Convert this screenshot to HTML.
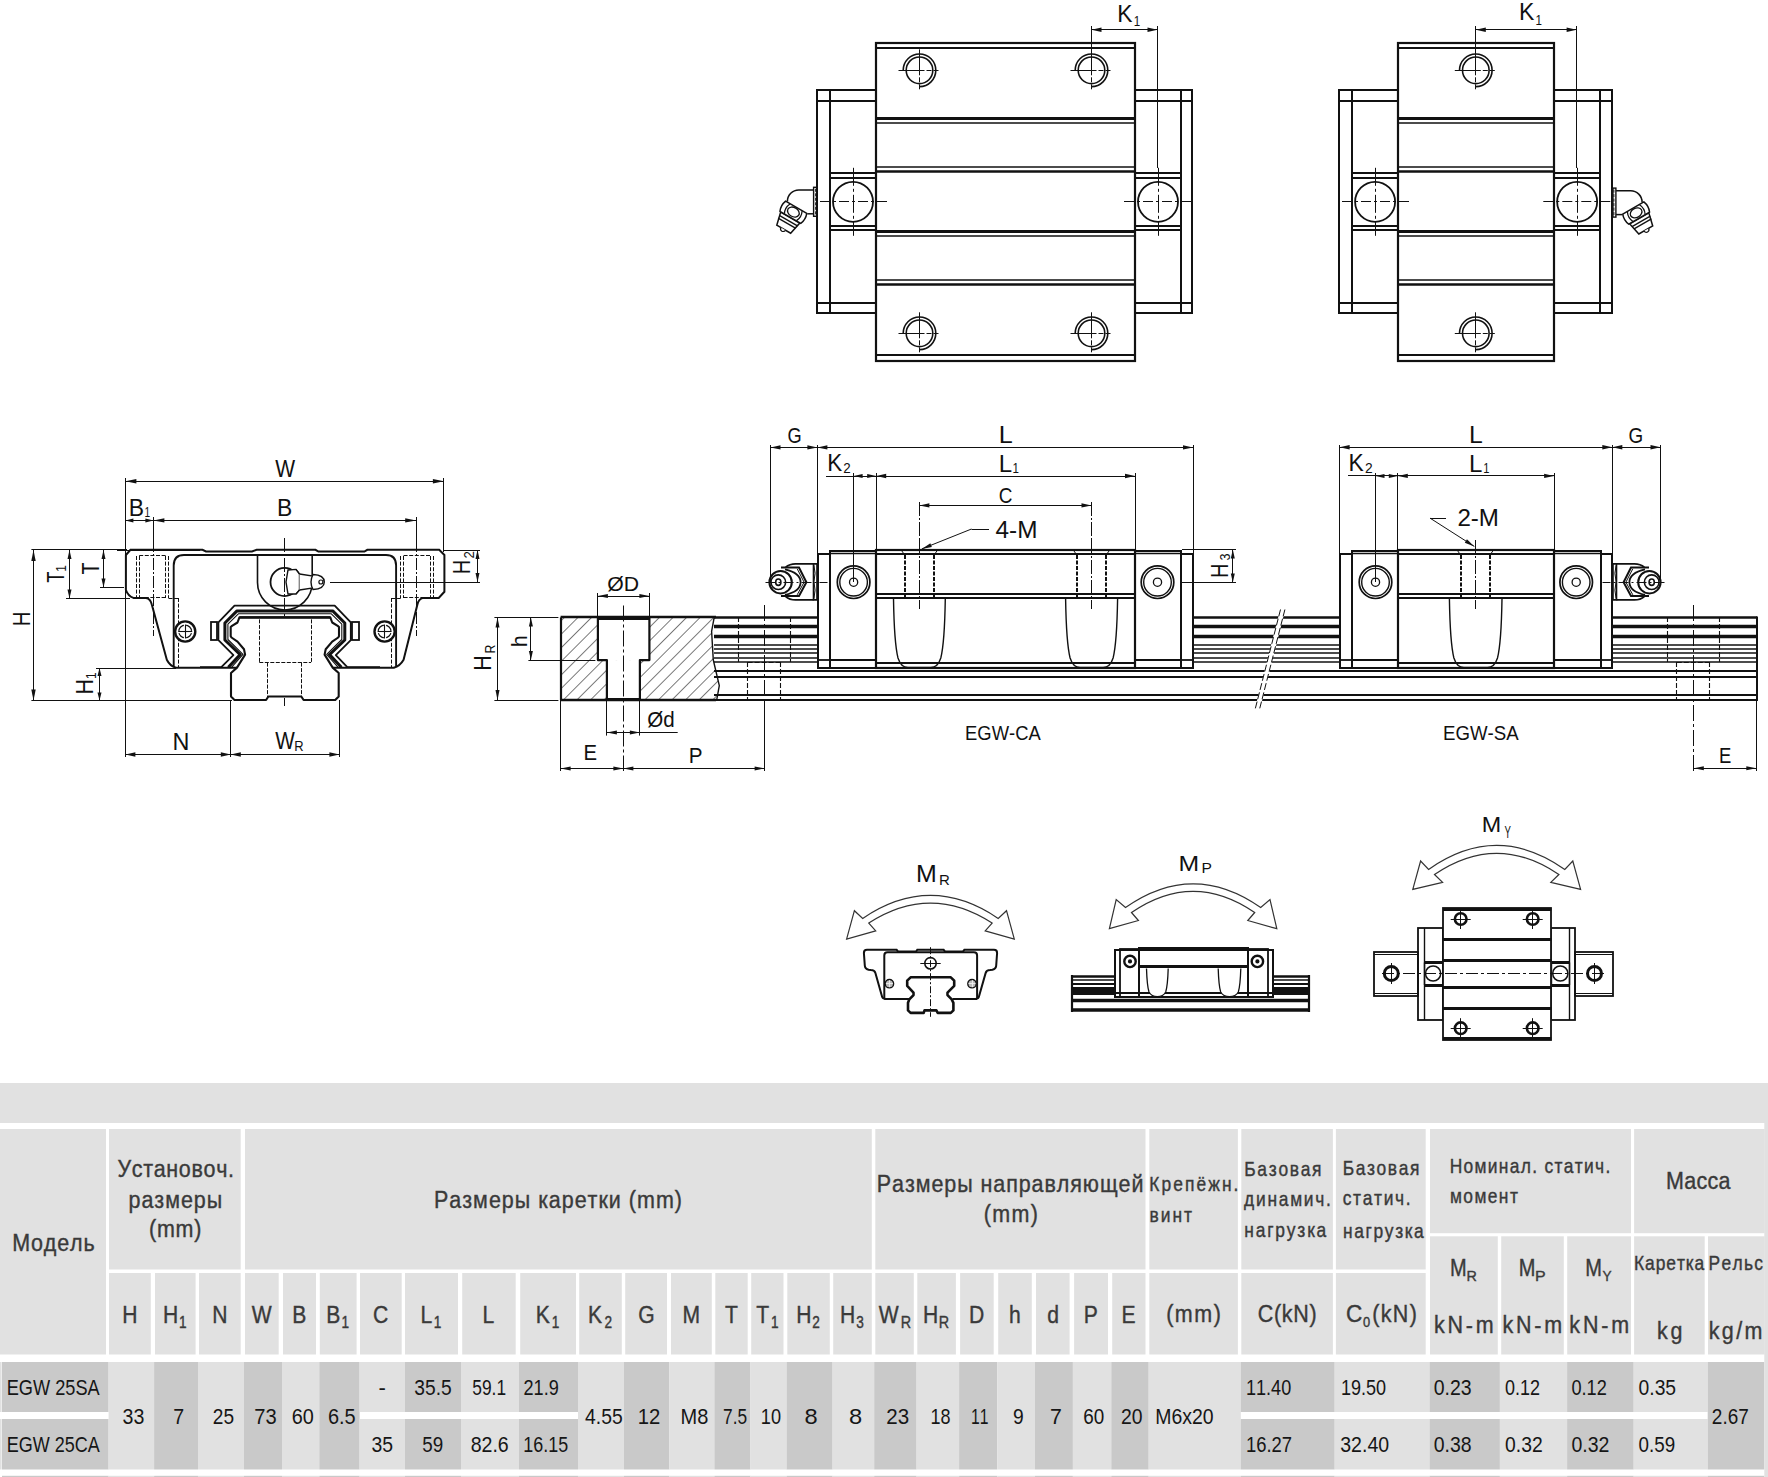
<!DOCTYPE html><html><head><meta charset="utf-8"><style>html,body{margin:0;padding:0;background:#fff;}svg{display:block;font-kerning:none;}</style></head><body>
<svg width="1768" height="1477" viewBox="0 0 1768 1477" font-family="&quot;Liberation Sans&quot;, sans-serif">
<rect width="1768" height="1477" fill="#fff"/>
<rect x="0" y="1083" width="1768" height="40" fill="#e1e1e1"/>
<rect x="0" y="1129" width="106" height="225.5" fill="#e1e1e1"/>
<rect x="109" y="1129" width="131.7" height="140.5" fill="#e1e1e1"/>
<rect x="245" y="1129" width="626.8" height="140.5" fill="#e1e1e1"/>
<rect x="875.3" y="1129" width="270.2" height="140.5" fill="#e1e1e1"/>
<rect x="1149.3" y="1129" width="88.6" height="140.5" fill="#e1e1e1"/>
<rect x="1241.3" y="1129" width="91.6" height="140.5" fill="#e1e1e1"/>
<rect x="1335.9" y="1129" width="89.8" height="140.5" fill="#e1e1e1"/>
<rect x="1430" y="1129" width="201" height="104.2" fill="#e1e1e1"/>
<rect x="1634.1" y="1129" width="130.6" height="104.2" fill="#e1e1e1"/>
<rect x="109" y="1273" width="41.8" height="81.5" fill="#e1e1e1"/>
<rect x="155" y="1273" width="40.6" height="81.5" fill="#e1e1e1"/>
<rect x="199" y="1273" width="41.7" height="81.5" fill="#e1e1e1"/>
<rect x="245" y="1273" width="33.7" height="81.5" fill="#e1e1e1"/>
<rect x="283" y="1273" width="33" height="81.5" fill="#e1e1e1"/>
<rect x="319.8" y="1273" width="36.8" height="81.5" fill="#e1e1e1"/>
<rect x="360" y="1273" width="41.7" height="81.5" fill="#e1e1e1"/>
<rect x="405" y="1273" width="53" height="81.5" fill="#e1e1e1"/>
<rect x="462.2" y="1273" width="53.5" height="81.5" fill="#e1e1e1"/>
<rect x="520.2" y="1273" width="55.8" height="81.5" fill="#e1e1e1"/>
<rect x="579.2" y="1273" width="42.6" height="81.5" fill="#e1e1e1"/>
<rect x="625.2" y="1273" width="41.8" height="81.5" fill="#e1e1e1"/>
<rect x="671" y="1273" width="40.8" height="81.5" fill="#e1e1e1"/>
<rect x="715.3" y="1273" width="32.4" height="81.5" fill="#e1e1e1"/>
<rect x="751.2" y="1273" width="32.3" height="81.5" fill="#e1e1e1"/>
<rect x="787.3" y="1273" width="42.5" height="81.5" fill="#e1e1e1"/>
<rect x="833.2" y="1273" width="38.6" height="81.5" fill="#e1e1e1"/>
<rect x="875.3" y="1273" width="38.5" height="81.5" fill="#e1e1e1"/>
<rect x="917.3" y="1273" width="38.6" height="81.5" fill="#e1e1e1"/>
<rect x="960.1" y="1273" width="33.6" height="81.5" fill="#e1e1e1"/>
<rect x="998.2" y="1273" width="33.6" height="81.5" fill="#e1e1e1"/>
<rect x="1036" y="1273" width="33.6" height="81.5" fill="#e1e1e1"/>
<rect x="1074.1" y="1273" width="33.9" height="81.5" fill="#e1e1e1"/>
<rect x="1112.2" y="1273" width="33.3" height="81.5" fill="#e1e1e1"/>
<rect x="1149.3" y="1273" width="88.6" height="81.5" fill="#e1e1e1"/>
<rect x="1241.3" y="1273" width="91.6" height="81.5" fill="#e1e1e1"/>
<rect x="1335.9" y="1273" width="89.8" height="81.5" fill="#e1e1e1"/>
<rect x="1430" y="1236.3" width="67.8" height="118.2" fill="#e1e1e1"/>
<rect x="1501.2" y="1236.3" width="62.6" height="118.2" fill="#e1e1e1"/>
<rect x="1567.2" y="1236.3" width="63.8" height="118.2" fill="#e1e1e1"/>
<rect x="1634.1" y="1236.3" width="70.6" height="118.2" fill="#e1e1e1"/>
<rect x="1708" y="1236.3" width="56.7" height="118.2" fill="#e1e1e1"/>
<rect x="2" y="1362" width="106.6" height="50" fill="#c9c9c9"/>
<rect x="2" y="1419" width="106.6" height="50.5" fill="#c9c9c9"/>
<rect x="108.6" y="1362" width="45.5" height="107.5" fill="#e1e1e1"/>
<rect x="154.1" y="1362" width="43.9" height="107.5" fill="#c9c9c9"/>
<rect x="198" y="1362" width="46" height="107.5" fill="#e1e1e1"/>
<rect x="244" y="1362" width="38" height="107.5" fill="#c9c9c9"/>
<rect x="282" y="1362" width="37.3" height="107.5" fill="#e1e1e1"/>
<rect x="319.3" y="1362" width="40.3" height="107.5" fill="#c9c9c9"/>
<rect x="359.6" y="1362" width="45.4" height="50" fill="#e1e1e1"/>
<rect x="359.6" y="1419" width="45.4" height="50.5" fill="#e1e1e1"/>
<rect x="405" y="1362" width="56" height="50" fill="#c9c9c9"/>
<rect x="405" y="1419" width="56" height="50.5" fill="#c9c9c9"/>
<rect x="461" y="1362" width="58" height="50" fill="#e1e1e1"/>
<rect x="461" y="1419" width="58" height="50.5" fill="#e1e1e1"/>
<rect x="519" y="1362" width="59" height="50" fill="#c9c9c9"/>
<rect x="519" y="1419" width="59" height="50.5" fill="#c9c9c9"/>
<rect x="578" y="1362" width="46" height="107.5" fill="#e1e1e1"/>
<rect x="624" y="1362" width="45.4" height="107.5" fill="#c9c9c9"/>
<rect x="669.4" y="1362" width="45" height="107.5" fill="#e1e1e1"/>
<rect x="714.4" y="1362" width="36.1" height="107.5" fill="#c9c9c9"/>
<rect x="750.5" y="1362" width="36.1" height="107.5" fill="#e1e1e1"/>
<rect x="786.6" y="1362" width="46" height="107.5" fill="#c9c9c9"/>
<rect x="832.6" y="1362" width="41.6" height="107.5" fill="#e1e1e1"/>
<rect x="874.2" y="1362" width="42.4" height="107.5" fill="#c9c9c9"/>
<rect x="916.6" y="1362" width="42.5" height="107.5" fill="#e1e1e1"/>
<rect x="959.1" y="1362" width="38.2" height="107.5" fill="#c9c9c9"/>
<rect x="997.3" y="1362" width="37.6" height="107.5" fill="#e1e1e1"/>
<rect x="1034.9" y="1362" width="38" height="107.5" fill="#c9c9c9"/>
<rect x="1072.9" y="1362" width="38.4" height="107.5" fill="#e1e1e1"/>
<rect x="1111.3" y="1362" width="37.4" height="107.5" fill="#c9c9c9"/>
<rect x="1148.7" y="1362" width="92.1" height="107.5" fill="#e1e1e1"/>
<rect x="1240.8" y="1362" width="93.9" height="50" fill="#c9c9c9"/>
<rect x="1240.8" y="1419" width="93.9" height="50.5" fill="#c9c9c9"/>
<rect x="1334.7" y="1362" width="94.8" height="50" fill="#e1e1e1"/>
<rect x="1334.7" y="1419" width="94.8" height="50.5" fill="#e1e1e1"/>
<rect x="1429.5" y="1362" width="70.4" height="50" fill="#c9c9c9"/>
<rect x="1429.5" y="1419" width="70.4" height="50.5" fill="#c9c9c9"/>
<rect x="1499.9" y="1362" width="67.2" height="50" fill="#e1e1e1"/>
<rect x="1499.9" y="1419" width="67.2" height="50.5" fill="#e1e1e1"/>
<rect x="1567.1" y="1362" width="66.6" height="50" fill="#c9c9c9"/>
<rect x="1567.1" y="1419" width="66.6" height="50.5" fill="#c9c9c9"/>
<rect x="1633.7" y="1362" width="74" height="50" fill="#e1e1e1"/>
<rect x="1633.7" y="1419" width="74" height="50.5" fill="#e1e1e1"/>
<rect x="1707.7" y="1362" width="56.6" height="107.5" fill="#c9c9c9"/>
<rect x="2" y="1475.8" width="106.6" height="1.2" fill="#c9c9c9"/>
<rect x="108.6" y="1475.8" width="45.5" height="1.2" fill="#e1e1e1"/>
<rect x="154.1" y="1475.8" width="43.9" height="1.2" fill="#c9c9c9"/>
<rect x="198" y="1475.8" width="46" height="1.2" fill="#e1e1e1"/>
<rect x="244" y="1475.8" width="38" height="1.2" fill="#c9c9c9"/>
<rect x="282" y="1475.8" width="37.3" height="1.2" fill="#e1e1e1"/>
<rect x="319.3" y="1475.8" width="40.3" height="1.2" fill="#c9c9c9"/>
<rect x="359.6" y="1475.8" width="45.4" height="1.2" fill="#e1e1e1"/>
<rect x="405" y="1475.8" width="56" height="1.2" fill="#c9c9c9"/>
<rect x="461" y="1475.8" width="58" height="1.2" fill="#e1e1e1"/>
<rect x="519" y="1475.8" width="59" height="1.2" fill="#c9c9c9"/>
<rect x="578" y="1475.8" width="46" height="1.2" fill="#e1e1e1"/>
<rect x="624" y="1475.8" width="45.4" height="1.2" fill="#c9c9c9"/>
<rect x="669.4" y="1475.8" width="45" height="1.2" fill="#e1e1e1"/>
<rect x="714.4" y="1475.8" width="36.1" height="1.2" fill="#c9c9c9"/>
<rect x="750.5" y="1475.8" width="36.1" height="1.2" fill="#e1e1e1"/>
<rect x="786.6" y="1475.8" width="46" height="1.2" fill="#c9c9c9"/>
<rect x="832.6" y="1475.8" width="41.6" height="1.2" fill="#e1e1e1"/>
<rect x="874.2" y="1475.8" width="42.4" height="1.2" fill="#c9c9c9"/>
<rect x="916.6" y="1475.8" width="42.5" height="1.2" fill="#e1e1e1"/>
<rect x="959.1" y="1475.8" width="38.2" height="1.2" fill="#c9c9c9"/>
<rect x="997.3" y="1475.8" width="37.6" height="1.2" fill="#e1e1e1"/>
<rect x="1034.9" y="1475.8" width="38" height="1.2" fill="#c9c9c9"/>
<rect x="1072.9" y="1475.8" width="38.4" height="1.2" fill="#e1e1e1"/>
<rect x="1111.3" y="1475.8" width="37.4" height="1.2" fill="#c9c9c9"/>
<rect x="1148.7" y="1475.8" width="92.1" height="1.2" fill="#e1e1e1"/>
<rect x="1240.8" y="1475.8" width="93.9" height="1.2" fill="#c9c9c9"/>
<rect x="1334.7" y="1475.8" width="94.8" height="1.2" fill="#e1e1e1"/>
<rect x="1429.5" y="1475.8" width="70.4" height="1.2" fill="#c9c9c9"/>
<rect x="1499.9" y="1475.8" width="67.2" height="1.2" fill="#e1e1e1"/>
<rect x="1567.1" y="1475.8" width="66.6" height="1.2" fill="#c9c9c9"/>
<rect x="1633.7" y="1475.8" width="74" height="1.2" fill="#e1e1e1"/>
<rect x="1707.7" y="1475.8" width="56.6" height="1.2" fill="#c9c9c9"/>
<rect x="0" y="1362" width="1.6" height="50" fill="#e1e1e1"/>
<rect x="0" y="1419" width="1.6" height="50.5" fill="#e1e1e1"/>
<rect x="1764.3" y="1083" width="3.7" height="394" fill="#e1e1e1"/>
<g font-family="&quot;Liberation Sans&quot;, sans-serif">
<g stroke="#3a3a3a" stroke-width="0.4">
<text transform="translate(12.24 1251) scale(0.8800 1)" font-size="24.42" fill="#3a3a3a" letter-spacing="0.970">Модель</text>
<text transform="translate(117.52 1176.8) scale(0.8800 1)" font-size="24.42" fill="#3a3a3a" letter-spacing="0.745">Установоч.</text>
<text transform="translate(128.51 1207.7) scale(0.8800 1)" font-size="24.42" fill="#3a3a3a" letter-spacing="1.098">размеры</text>
<text transform="translate(148.97 1236.8) scale(0.8800 1)" font-size="24.42" fill="#3a3a3a" letter-spacing="0.891">(mm)</text>
<text transform="translate(433.94 1208) scale(0.8800 1)" font-size="24.42" fill="#3a3a3a" letter-spacing="1.153">Размеры каретки (mm)</text>
<text transform="translate(876.84 1191.9) scale(0.8800 1)" font-size="24.42" fill="#3a3a3a" letter-spacing="1.054">Размеры направляющей</text>
<text transform="translate(983.67 1221.5) scale(0.8800 1)" font-size="24.42" fill="#3a3a3a" letter-spacing="1.573">(mm)</text>
<text transform="translate(1149.27 1190.7) scale(0.8800 1)" font-size="19.77" fill="#3a3a3a" letter-spacing="2.364">Крепёжн.</text>
<text transform="translate(1149.49 1221.6) scale(0.8800 1)" font-size="19.77" fill="#3a3a3a" letter-spacing="2.262">винт</text>
<text transform="translate(1244.27 1176) scale(0.8800 1)" font-size="19.77" fill="#3a3a3a" letter-spacing="1.924">Базовая</text>
<text transform="translate(1244.03 1205.6) scale(0.8800 1)" font-size="19.77" fill="#3a3a3a" letter-spacing="1.986">динамич.</text>
<text transform="translate(1244.19 1236.8) scale(0.8800 1)" font-size="19.77" fill="#3a3a3a" letter-spacing="2.085">нагрузка</text>
<text transform="translate(1342.67 1174.9) scale(0.8800 1)" font-size="19.77" fill="#3a3a3a" letter-spacing="1.829">Базовая</text>
<text transform="translate(1342.76 1204.9) scale(0.8800 1)" font-size="19.77" fill="#3a3a3a" letter-spacing="1.895">статич.</text>
<text transform="translate(1342.89 1237.7) scale(0.8800 1)" font-size="19.77" fill="#3a3a3a" letter-spacing="1.891">нагрузка</text>
<text transform="translate(1449.67 1173.2) scale(0.8800 1)" font-size="19.77" fill="#3a3a3a" letter-spacing="1.499">Номинал. статич.</text>
<text transform="translate(1449.89 1202.9) scale(0.8800 1)" font-size="19.77" fill="#3a3a3a" letter-spacing="1.628">момент</text>
<text transform="translate(1666.04 1189) scale(0.8800 1)" font-size="24.42" fill="#3a3a3a" letter-spacing="0.304">Масса</text>
<text transform="translate(122.27 1323.1) scale(0.8600 1)" font-size="24.56" fill="#3a3a3a">H</text>
<text transform="translate(163.08 1323.1) scale(0.8600 1)" font-size="24.56" fill="#3a3a3a">H</text>
<text transform="translate(178.88 1327.8) scale(0.8600 1)" font-size="15.84" fill="#3a3a3a">1</text>
<text transform="translate(212.22 1323.1) scale(0.8600 1)" font-size="24.56" fill="#3a3a3a">N</text>
<text transform="translate(251.87 1323.1) scale(0.8600 1)" font-size="24.56" fill="#3a3a3a">W</text>
<text transform="translate(292.15 1323.1) scale(0.8600 1)" font-size="24.56" fill="#3a3a3a">B</text>
<text transform="translate(326.26 1323.1) scale(0.8600 1)" font-size="24.56" fill="#3a3a3a">B</text>
<text transform="translate(341.5 1327.8) scale(0.8600 1)" font-size="15.84" fill="#3a3a3a">1</text>
<text transform="translate(373.09 1323.1) scale(0.8600 1)" font-size="24.56" fill="#3a3a3a">C</text>
<text transform="translate(420.52 1323.1) scale(0.8600 1)" font-size="24.56" fill="#3a3a3a">L</text>
<text transform="translate(433.83 1327.8) scale(0.8600 1)" font-size="15.84" fill="#3a3a3a">1</text>
<text transform="translate(482.56 1323.1) scale(0.8600 1)" font-size="24.56" fill="#3a3a3a">L</text>
<text transform="translate(535.72 1323.1) scale(0.8600 1)" font-size="24.56" fill="#3a3a3a">K</text>
<text transform="translate(551.83 1327.8) scale(0.8600 1)" font-size="15.84" fill="#3a3a3a">1</text>
<text transform="translate(587.95 1323.1) scale(0.8600 1)" font-size="24.56" fill="#3a3a3a">K</text>
<text transform="translate(604.42 1327.8) scale(0.8600 1)" font-size="15.84" fill="#3a3a3a">2</text>
<text transform="translate(638.14 1323.1) scale(0.8600 1)" font-size="24.56" fill="#3a3a3a">G</text>
<text transform="translate(682.6 1323.1) scale(0.8600 1)" font-size="24.56" fill="#3a3a3a">M</text>
<text transform="translate(725.05 1323.1) scale(0.8600 1)" font-size="24.56" fill="#3a3a3a">T</text>
<text transform="translate(756.32 1323.1) scale(0.8600 1)" font-size="24.56" fill="#3a3a3a">T</text>
<text transform="translate(771 1327.8) scale(0.8600 1)" font-size="15.84" fill="#3a3a3a">1</text>
<text transform="translate(796.16 1323.1) scale(0.8600 1)" font-size="24.56" fill="#3a3a3a">H</text>
<text transform="translate(812.31 1327.8) scale(0.8600 1)" font-size="15.84" fill="#3a3a3a">2</text>
<text transform="translate(839.99 1323.1) scale(0.8600 1)" font-size="24.56" fill="#3a3a3a">H</text>
<text transform="translate(856.3 1327.8) scale(0.8600 1)" font-size="15.84" fill="#3a3a3a">3</text>
<text transform="translate(878.65 1323.1) scale(0.8600 1)" font-size="24.56" fill="#3a3a3a">W</text>
<text transform="translate(900.64 1327.8) scale(0.8600 1)" font-size="16.72" fill="#3a3a3a">R</text>
<text transform="translate(923.05 1323.1) scale(0.8600 1)" font-size="24.56" fill="#3a3a3a">H</text>
<text transform="translate(938.7 1327.8) scale(0.8600 1)" font-size="16.72" fill="#3a3a3a">R</text>
<text transform="translate(968.91 1323.1) scale(0.8600 1)" font-size="24.56" fill="#3a3a3a">D</text>
<text transform="translate(1009.08 1323.1) scale(0.8600 1)" font-size="24.56" fill="#3a3a3a">h</text>
<text transform="translate(1047.16 1323.1) scale(0.8600 1)" font-size="24.56" fill="#3a3a3a">d</text>
<text transform="translate(1083.7 1323.1) scale(0.8600 1)" font-size="24.56" fill="#3a3a3a">P</text>
<text transform="translate(1121.39 1323.1) scale(0.8600 1)" font-size="24.56" fill="#3a3a3a">E</text>
<text transform="translate(1166.17 1321.5) scale(0.8800 1)" font-size="24.42" fill="#3a3a3a" letter-spacing="1.725">(mm)</text>
<text transform="translate(1257.81 1322.4) scale(0.8800 1)" font-size="24.42" fill="#3a3a3a" letter-spacing="0.747">C(kN)</text>
<text transform="translate(1346.05 1322.4) scale(0.9247 1)" font-size="24.42" fill="#3a3a3a">C</text>
<text transform="translate(1363 1327.2) scale(0.8600 1)" font-size="15" fill="#3a3a3a">0</text>
<text transform="translate(1372.17 1322.4) scale(0.8800 1)" font-size="24.42" fill="#3a3a3a" letter-spacing="1.587">(kN)</text>
<text transform="translate(1450.06 1275.8) scale(0.8400 1)" font-size="23.84" fill="#3a3a3a">M</text>
<text transform="translate(1466.42 1280.5) scale(0.9205 1)" font-size="15.55" fill="#3a3a3a">R</text>
<text transform="translate(1518.66 1275.8) scale(0.8400 1)" font-size="23.84" fill="#3a3a3a">M</text>
<text transform="translate(1534.89 1280.5) scale(1.0269 1)" font-size="15.55" fill="#3a3a3a">P</text>
<text transform="translate(1585.26 1275.8) scale(0.8400 1)" font-size="23.84" fill="#3a3a3a">M</text>
<text transform="translate(1602.5 1280.5) scale(0.8772 1)" font-size="15.55" fill="#3a3a3a">Y</text>
<text transform="translate(1433.95 1333) scale(0.8800 1)" font-size="24.42" fill="#3a3a3a" letter-spacing="3.199">kN-m</text>
<text transform="translate(1502.45 1333) scale(0.8800 1)" font-size="24.42" fill="#3a3a3a" letter-spacing="3.199">kN-m</text>
<text transform="translate(1569.35 1333) scale(0.8800 1)" font-size="24.42" fill="#3a3a3a" letter-spacing="3.199">kN-m</text>
<text transform="translate(1633.97 1270) scale(0.8800 1)" font-size="19.77" fill="#3a3a3a" letter-spacing="1.083">Каретка</text>
<text transform="translate(1708.47 1270) scale(0.8800 1)" font-size="19.77" fill="#3a3a3a" letter-spacing="1.533">Рельс</text>
<text transform="translate(1657.05 1339.1) scale(0.8800 1)" font-size="24.42" fill="#3a3a3a" letter-spacing="2.997">kg</text>
<text transform="translate(1708.75 1339.1) scale(0.8800 1)" font-size="24.42" fill="#3a3a3a" letter-spacing="2.689">kg/m</text>
</g>
<text transform="translate(6.71 1395.1) scale(0.8129 1)" font-size="22.38" fill="#161616">EGW 25SA</text>
<text transform="translate(6.72 1452) scale(0.7887 1)" font-size="22.82" fill="#161616">EGW 25CA</text>
<text transform="translate(378.62 1395.1) scale(0.9881 1)" font-size="22.38" fill="#161616">-</text>
<text transform="translate(414.27 1395.1) scale(0.8594 1)" font-size="22.38" fill="#161616">35.5</text>
<text transform="translate(472.3 1395.1) scale(0.7769 1)" font-size="22.38" fill="#161616">59.1</text>
<text transform="translate(523.49 1395.1) scale(0.8096 1)" font-size="22.38" fill="#161616">21.9</text>
<text transform="translate(1246.02 1395.1) scale(0.8066 1)" font-size="22.38" fill="#161616">11.40</text>
<text transform="translate(1340.92 1395.1) scale(0.8066 1)" font-size="22.38" fill="#161616">19.50</text>
<text transform="translate(1433.74 1395.1) scale(0.8703 1)" font-size="22.38" fill="#161616">0.23</text>
<text transform="translate(1505.1 1395.1) scale(0.8035 1)" font-size="22.38" fill="#161616">0.12</text>
<text transform="translate(1571.49 1395.1) scale(0.8108 1)" font-size="22.38" fill="#161616">0.12</text>
<text transform="translate(1638.55 1395.1) scale(0.8622 1)" font-size="22.38" fill="#161616">0.35</text>
<text transform="translate(371.56 1452) scale(0.8491 1)" font-size="22.82" fill="#161616">35</text>
<text transform="translate(422.25 1452) scale(0.8252 1)" font-size="22.82" fill="#161616">59</text>
<text transform="translate(470.65 1452) scale(0.8581 1)" font-size="22.82" fill="#161616">82.6</text>
<text transform="translate(523.34 1452) scale(0.7848 1)" font-size="22.82" fill="#161616">16.15</text>
<text transform="translate(1246 1452) scale(0.8078 1)" font-size="22.82" fill="#161616">16.27</text>
<text transform="translate(1340.26 1452) scale(0.8564 1)" font-size="22.82" fill="#161616">32.40</text>
<text transform="translate(1433.74 1452) scale(0.8535 1)" font-size="22.82" fill="#161616">0.38</text>
<text transform="translate(1505.04 1452) scale(0.8472 1)" font-size="22.82" fill="#161616">0.32</text>
<text transform="translate(1571.44 1452) scale(0.8543 1)" font-size="22.82" fill="#161616">0.32</text>
<text transform="translate(1638.56 1452) scale(0.8246 1)" font-size="22.82" fill="#161616">0.59</text>
<text transform="translate(122.55 1423.7) scale(0.8592 1)" font-size="22.82" fill="#161616">33</text>
<text transform="translate(173.2 1423.7) scale(0.8579 1)" font-size="22.82" fill="#161616">7</text>
<text transform="translate(212.84 1423.7) scale(0.8377 1)" font-size="22.82" fill="#161616">25</text>
<text transform="translate(254.37 1423.7) scale(0.8832 1)" font-size="22.82" fill="#161616">73</text>
<text transform="translate(291.79 1423.7) scale(0.8700 1)" font-size="22.82" fill="#161616">60</text>
<text transform="translate(327.89 1423.7) scale(0.8748 1)" font-size="22.82" fill="#161616">6.5</text>
<text transform="translate(585.06 1423.7) scale(0.8478 1)" font-size="22.82" fill="#161616">4.55</text>
<text transform="translate(637.75 1423.7) scale(0.8890 1)" font-size="22.82" fill="#161616">12</text>
<text transform="translate(680.46 1423.7) scale(0.8773 1)" font-size="22.82" fill="#161616">M8</text>
<text transform="translate(723.01 1423.7) scale(0.7603 1)" font-size="22.82" fill="#161616">7.5</text>
<text transform="translate(760.82 1423.7) scale(0.7955 1)" font-size="22.82" fill="#161616">10</text>
<text transform="translate(804.57 1423.7) scale(1.0366 1)" font-size="22.82" fill="#161616">8</text>
<text transform="translate(848.97 1423.7) scale(1.0366 1)" font-size="22.82" fill="#161616">8</text>
<text transform="translate(886.27 1423.7) scale(0.8996 1)" font-size="22.82" fill="#161616">23</text>
<text transform="translate(930.43 1423.7) scale(0.7902 1)" font-size="22.82" fill="#161616">18</text>
<text transform="translate(971.1 1423.7) scale(0.6880 1)" font-size="22.82" fill="#161616">11</text>
<text transform="translate(1012.9 1423.7) scale(0.8443 1)" font-size="22.82" fill="#161616">9</text>
<text transform="translate(1050.11 1423.7) scale(0.9350 1)" font-size="22.82" fill="#161616">7</text>
<text transform="translate(1083.34 1423.7) scale(0.8272 1)" font-size="22.82" fill="#161616">60</text>
<text transform="translate(1121.03 1423.7) scale(0.8482 1)" font-size="22.82" fill="#161616">20</text>
<text transform="translate(1155.21 1423.7) scale(0.8520 1)" font-size="22.82" fill="#161616">M6x20</text>
<text transform="translate(1711.85 1423.7) scale(0.8310 1)" font-size="22.82" fill="#161616">2.67</text>
</g>
<g stroke-linecap="butt">
<text transform="translate(1117.13 21.9) scale(0.9351 1)" font-size="24.42" fill="#111">K</text>
<text transform="translate(1133.72 25.7) scale(0.7672 1)" font-size="15.12" fill="#111">1</text>
<text transform="translate(1518.91 19.6) scale(0.9593 1)" font-size="23.98" fill="#111">K</text>
<text transform="translate(1535.42 24.7) scale(0.7822 1)" font-size="14.83" fill="#111">1</text>
<rect x="817" y="90" width="59" height="223" fill="none" stroke="#111" stroke-width="2"/>
<line x1="830" y1="89.8" x2="830" y2="312.8" stroke="#111" stroke-width="2"/>
<line x1="817" y1="101" x2="876" y2="101" stroke="#111" stroke-width="2"/>
<line x1="817" y1="303" x2="876" y2="303" stroke="#111" stroke-width="2"/>
<line x1="830" y1="173" x2="876" y2="173" stroke="#111" stroke-width="2"/>
<line x1="830" y1="178" x2="876" y2="178" stroke="#111" stroke-width="2"/>
<line x1="830" y1="226" x2="876" y2="226" stroke="#111" stroke-width="2"/>
<line x1="830" y1="230" x2="876" y2="230" stroke="#111" stroke-width="2"/>
<rect x="1135" y="90" width="57" height="223" fill="none" stroke="#111" stroke-width="2"/>
<line x1="1181" y1="89.8" x2="1181" y2="312.8" stroke="#111" stroke-width="2"/>
<line x1="1135" y1="101" x2="1192" y2="101" stroke="#111" stroke-width="2"/>
<line x1="1135" y1="303" x2="1192" y2="303" stroke="#111" stroke-width="2"/>
<line x1="1135" y1="173" x2="1181" y2="173" stroke="#111" stroke-width="2"/>
<line x1="1135" y1="178" x2="1181" y2="178" stroke="#111" stroke-width="2"/>
<line x1="1135" y1="226" x2="1181" y2="226" stroke="#111" stroke-width="2"/>
<line x1="1135" y1="230" x2="1181" y2="230" stroke="#111" stroke-width="2"/>
<rect x="876" y="42.8" width="259" height="318.2" fill="#fff"/>
<rect x="876" y="43" width="259" height="318" fill="none" stroke="#111" stroke-width="2.2"/>
<line x1="876" y1="48" x2="1135" y2="48" stroke="#111" stroke-width="1.8"/>
<line x1="876" y1="355" x2="1135" y2="355" stroke="#111" stroke-width="1.8"/>
<line x1="876" y1="118.5" x2="1135" y2="118.5" stroke="#111" stroke-width="3.2"/>
<line x1="876" y1="123" x2="1135" y2="123" stroke="#111" stroke-width="1.6"/>
<line x1="876" y1="167" x2="1135" y2="167" stroke="#111" stroke-width="1.6"/>
<line x1="876" y1="171.5" x2="1135" y2="171.5" stroke="#111" stroke-width="2.6"/>
<line x1="876" y1="231.5" x2="1135" y2="231.5" stroke="#111" stroke-width="3.2"/>
<line x1="876" y1="236" x2="1135" y2="236" stroke="#111" stroke-width="1.6"/>
<line x1="876" y1="280" x2="1135" y2="280" stroke="#111" stroke-width="1.6"/>
<line x1="876" y1="284.5" x2="1135" y2="284.5" stroke="#111" stroke-width="2.6"/>
<circle cx="919.5" cy="70.3" r="13.3" fill="none" stroke="#111" stroke-width="1.6"/>
<path d="M903.2 70.3 A16.3 16.3 0 1 1 919.5 86.6" fill="none" stroke="#111" stroke-width="1.6" />
<line x1="898.5" y1="70.5" x2="919.5" y2="70.5" stroke="#111" stroke-width="1"/>
<line x1="919.5" y1="70.5" x2="940.5" y2="70.5" stroke="#111" stroke-width="1" stroke-dasharray="5 2"/>
<line x1="919.5" y1="49.3" x2="919.5" y2="70.3" stroke="#111" stroke-width="1"/>
<line x1="919.5" y1="70.3" x2="919.5" y2="91.3" stroke="#111" stroke-width="1" stroke-dasharray="5 2"/>
<circle cx="919.5" cy="333.3" r="13.3" fill="none" stroke="#111" stroke-width="1.6"/>
<path d="M903.2 333.3 A16.3 16.3 0 1 1 919.5 349.6" fill="none" stroke="#111" stroke-width="1.6" />
<line x1="898.5" y1="333.5" x2="919.5" y2="333.5" stroke="#111" stroke-width="1"/>
<line x1="919.5" y1="333.5" x2="940.5" y2="333.5" stroke="#111" stroke-width="1" stroke-dasharray="5 2"/>
<line x1="919.5" y1="312.3" x2="919.5" y2="333.3" stroke="#111" stroke-width="1"/>
<line x1="919.5" y1="333.3" x2="919.5" y2="354.3" stroke="#111" stroke-width="1" stroke-dasharray="5 2"/>
<circle cx="1091.5" cy="70.3" r="13.3" fill="none" stroke="#111" stroke-width="1.6"/>
<path d="M1075.2 70.3 A16.3 16.3 0 1 1 1091.5 86.6" fill="none" stroke="#111" stroke-width="1.6" />
<line x1="1070.5" y1="70.5" x2="1091.5" y2="70.5" stroke="#111" stroke-width="1"/>
<line x1="1091.5" y1="70.5" x2="1112.5" y2="70.5" stroke="#111" stroke-width="1" stroke-dasharray="5 2"/>
<line x1="1091.5" y1="49.3" x2="1091.5" y2="70.3" stroke="#111" stroke-width="1"/>
<line x1="1091.5" y1="70.3" x2="1091.5" y2="91.3" stroke="#111" stroke-width="1" stroke-dasharray="5 2"/>
<circle cx="1091.5" cy="333.3" r="13.3" fill="none" stroke="#111" stroke-width="1.6"/>
<path d="M1075.2 333.3 A16.3 16.3 0 1 1 1091.5 349.6" fill="none" stroke="#111" stroke-width="1.6" />
<line x1="1070.5" y1="333.5" x2="1091.5" y2="333.5" stroke="#111" stroke-width="1"/>
<line x1="1091.5" y1="333.5" x2="1112.5" y2="333.5" stroke="#111" stroke-width="1" stroke-dasharray="5 2"/>
<line x1="1091.5" y1="312.3" x2="1091.5" y2="333.3" stroke="#111" stroke-width="1"/>
<line x1="1091.5" y1="333.3" x2="1091.5" y2="354.3" stroke="#111" stroke-width="1" stroke-dasharray="5 2"/>
<circle cx="853" cy="201.8" r="20" fill="none" stroke="#111" stroke-width="1.8"/>
<line x1="853.5" y1="167.8" x2="853.5" y2="235.8" stroke="#111" stroke-width="1" stroke-dasharray="18 3 3 3"/>
<circle cx="1158" cy="201.8" r="20" fill="none" stroke="#111" stroke-width="1.8"/>
<line x1="1158.5" y1="167.8" x2="1158.5" y2="235.8" stroke="#111" stroke-width="1" stroke-dasharray="18 3 3 3"/>
<line x1="820.5" y1="201.8" x2="820.5" y2="201.8" stroke="#111" stroke-width="1"/>
<line x1="820" y1="201.5" x2="887" y2="201.5" stroke="#111" stroke-width="1" stroke-dasharray="10 3 3 3"/>
<line x1="1124" y1="201.5" x2="1193" y2="201.5" stroke="#111" stroke-width="1" stroke-dasharray="10 3 3 3"/>
<line x1="1091.5" y1="26" x2="1091.5" y2="50" stroke="#111" stroke-width="1"/>
<line x1="1157.5" y1="26" x2="1157.5" y2="168" stroke="#111" stroke-width="1"/>
<line x1="1091.5" y1="29.5" x2="1157.5" y2="29.5" stroke="#111" stroke-width="1"/>
<path d="M1091.5 29.7 L1101.5 27.5 L1101.5 31.9 Z" fill="#111"/>
<path d="M1157.5 29.7 L1147.5 31.9 L1147.5 27.5 Z" fill="#111"/>
<g transform="translate(817.1 201.8) scale(1 1)">
<rect x="-3.5" y="-14.5" width="3" height="29" fill="#fff" stroke="#111" stroke-width="1.4"/>
<line x1="-1.5" y1="-13" x2="-1.5" y2="13" stroke="#111" stroke-width="0.9" stroke-dasharray="3 1.5"/>
<path d="M-3.7 -11.8 L-18.3 -11.8 A11.4 11.4 0 0 0 -29.7 -0.4" fill="none" stroke="#111" stroke-width="1.5" />
<line x1="-9.8" y1="12" x2="-3.7" y2="12" stroke="#111" stroke-width="1.5"/>
<g transform="translate(-20.9 5.4) rotate(30)">
<path d="M-11 12 L11 12 L8.2 25.3 L-7.8 25.3 Z" fill="#fff" stroke="#111" stroke-width="1.5" />
<line x1="-10.6" y1="15.5" x2="10.4" y2="15.5" stroke="#111" stroke-width="1.3"/>
<line x1="-10.2" y1="18.5" x2="9.8" y2="18.5" stroke="#111" stroke-width="1.3"/>
<path d="M-3 25.3 A2.6 2.6 0 0 0 2.2 25.3" fill="#fff" stroke="#111" stroke-width="1.2" />
<path d="M-12.2 0 L12.2 0 Q14.5 6 12 11.7 L-12 11.7 Q-14.5 6 -12.2 0 Z" fill="#fff" stroke="#111" stroke-width="1.5" />
<ellipse cx="0" cy="5.6" rx="6.2" ry="4.6" fill="none" stroke="#111" stroke-width="1.3"/>
<path d="M-7 0.3 Q-9.8 6 -7 11.5 M7 0.3 Q9.8 6 7 11.5" fill="none" stroke="#111" stroke-width="1.3" />
</g>
</g>
<rect x="1339" y="90" width="59" height="223" fill="none" stroke="#111" stroke-width="2"/>
<line x1="1352" y1="89.8" x2="1352" y2="312.8" stroke="#111" stroke-width="2"/>
<line x1="1339" y1="101" x2="1398.2" y2="101" stroke="#111" stroke-width="2"/>
<line x1="1339" y1="303" x2="1398.2" y2="303" stroke="#111" stroke-width="2"/>
<line x1="1352" y1="173" x2="1398.2" y2="173" stroke="#111" stroke-width="2"/>
<line x1="1352" y1="178" x2="1398.2" y2="178" stroke="#111" stroke-width="2"/>
<line x1="1352" y1="226" x2="1398.2" y2="226" stroke="#111" stroke-width="2"/>
<line x1="1352" y1="230" x2="1398.2" y2="230" stroke="#111" stroke-width="2"/>
<rect x="1554" y="90" width="58" height="223" fill="none" stroke="#111" stroke-width="2"/>
<line x1="1600" y1="89.8" x2="1600" y2="312.8" stroke="#111" stroke-width="2"/>
<line x1="1554.3" y1="101" x2="1612" y2="101" stroke="#111" stroke-width="2"/>
<line x1="1554.3" y1="303" x2="1612" y2="303" stroke="#111" stroke-width="2"/>
<line x1="1554.3" y1="173" x2="1600" y2="173" stroke="#111" stroke-width="2"/>
<line x1="1554.3" y1="178" x2="1600" y2="178" stroke="#111" stroke-width="2"/>
<line x1="1554.3" y1="226" x2="1600" y2="226" stroke="#111" stroke-width="2"/>
<line x1="1554.3" y1="230" x2="1600" y2="230" stroke="#111" stroke-width="2"/>
<rect x="1398.2" y="42.8" width="156.1" height="318.2" fill="#fff"/>
<rect x="1398" y="43" width="156" height="318" fill="none" stroke="#111" stroke-width="2.2"/>
<line x1="1398.2" y1="48" x2="1554.3" y2="48" stroke="#111" stroke-width="1.8"/>
<line x1="1398.2" y1="355" x2="1554.3" y2="355" stroke="#111" stroke-width="1.8"/>
<line x1="1398.2" y1="118.5" x2="1554.3" y2="118.5" stroke="#111" stroke-width="3.2"/>
<line x1="1398.2" y1="123" x2="1554.3" y2="123" stroke="#111" stroke-width="1.6"/>
<line x1="1398.2" y1="167" x2="1554.3" y2="167" stroke="#111" stroke-width="1.6"/>
<line x1="1398.2" y1="171.5" x2="1554.3" y2="171.5" stroke="#111" stroke-width="2.6"/>
<line x1="1398.2" y1="231.5" x2="1554.3" y2="231.5" stroke="#111" stroke-width="3.2"/>
<line x1="1398.2" y1="236" x2="1554.3" y2="236" stroke="#111" stroke-width="1.6"/>
<line x1="1398.2" y1="280" x2="1554.3" y2="280" stroke="#111" stroke-width="1.6"/>
<line x1="1398.2" y1="284.5" x2="1554.3" y2="284.5" stroke="#111" stroke-width="2.6"/>
<circle cx="1475.8" cy="70.3" r="13.3" fill="none" stroke="#111" stroke-width="1.6"/>
<path d="M1459.5 70.3 A16.3 16.3 0 1 1 1475.8 86.6" fill="none" stroke="#111" stroke-width="1.6" />
<line x1="1454.8" y1="70.5" x2="1475.8" y2="70.5" stroke="#111" stroke-width="1"/>
<line x1="1475.8" y1="70.5" x2="1496.8" y2="70.5" stroke="#111" stroke-width="1" stroke-dasharray="5 2"/>
<line x1="1475.5" y1="49.3" x2="1475.5" y2="70.3" stroke="#111" stroke-width="1"/>
<line x1="1475.5" y1="70.3" x2="1475.5" y2="91.3" stroke="#111" stroke-width="1" stroke-dasharray="5 2"/>
<circle cx="1475.8" cy="333.3" r="13.3" fill="none" stroke="#111" stroke-width="1.6"/>
<path d="M1459.5 333.3 A16.3 16.3 0 1 1 1475.8 349.6" fill="none" stroke="#111" stroke-width="1.6" />
<line x1="1454.8" y1="333.5" x2="1475.8" y2="333.5" stroke="#111" stroke-width="1"/>
<line x1="1475.8" y1="333.5" x2="1496.8" y2="333.5" stroke="#111" stroke-width="1" stroke-dasharray="5 2"/>
<line x1="1475.5" y1="312.3" x2="1475.5" y2="333.3" stroke="#111" stroke-width="1"/>
<line x1="1475.5" y1="333.3" x2="1475.5" y2="354.3" stroke="#111" stroke-width="1" stroke-dasharray="5 2"/>
<circle cx="1375.1" cy="201.8" r="20" fill="none" stroke="#111" stroke-width="1.8"/>
<line x1="1375.5" y1="167.8" x2="1375.5" y2="235.8" stroke="#111" stroke-width="1" stroke-dasharray="18 3 3 3"/>
<circle cx="1577.15" cy="201.8" r="20" fill="none" stroke="#111" stroke-width="1.8"/>
<line x1="1577.5" y1="167.8" x2="1577.5" y2="235.8" stroke="#111" stroke-width="1" stroke-dasharray="18 3 3 3"/>
<line x1="1342.5" y1="201.8" x2="1342.5" y2="201.8" stroke="#111" stroke-width="1"/>
<line x1="1342" y1="201.5" x2="1409.2" y2="201.5" stroke="#111" stroke-width="1" stroke-dasharray="10 3 3 3"/>
<line x1="1543.3" y1="201.5" x2="1613" y2="201.5" stroke="#111" stroke-width="1" stroke-dasharray="10 3 3 3"/>
<line x1="1475.5" y1="26" x2="1475.5" y2="50" stroke="#111" stroke-width="1"/>
<line x1="1576.5" y1="26" x2="1576.5" y2="168" stroke="#111" stroke-width="1"/>
<line x1="1475.8" y1="29.5" x2="1576.6" y2="29.5" stroke="#111" stroke-width="1"/>
<path d="M1475.8 29.7 L1485.8 27.5 L1485.8 31.9 Z" fill="#111"/>
<path d="M1576.6 29.7 L1566.6 31.9 L1566.6 27.5 Z" fill="#111"/>
<g transform="translate(1612.4 202.6) scale(-1 1)">
<rect x="-3.5" y="-14.5" width="3" height="29" fill="#fff" stroke="#111" stroke-width="1.4"/>
<line x1="-1.5" y1="-13" x2="-1.5" y2="13" stroke="#111" stroke-width="0.9" stroke-dasharray="3 1.5"/>
<path d="M-3.7 -11.8 L-18.3 -11.8 A11.4 11.4 0 0 0 -29.7 -0.4" fill="none" stroke="#111" stroke-width="1.5" />
<line x1="-9.8" y1="12" x2="-3.7" y2="12" stroke="#111" stroke-width="1.5"/>
<g transform="translate(-20.9 5.4) rotate(30)">
<path d="M-11 12 L11 12 L8.2 25.3 L-7.8 25.3 Z" fill="#fff" stroke="#111" stroke-width="1.5" />
<line x1="-10.6" y1="15.5" x2="10.4" y2="15.5" stroke="#111" stroke-width="1.3"/>
<line x1="-10.2" y1="18.5" x2="9.8" y2="18.5" stroke="#111" stroke-width="1.3"/>
<path d="M-3 25.3 A2.6 2.6 0 0 0 2.2 25.3" fill="#fff" stroke="#111" stroke-width="1.2" />
<path d="M-12.2 0 L12.2 0 Q14.5 6 12 11.7 L-12 11.7 Q-14.5 6 -12.2 0 Z" fill="#fff" stroke="#111" stroke-width="1.5" />
<ellipse cx="0" cy="5.6" rx="6.2" ry="4.6" fill="none" stroke="#111" stroke-width="1.3"/>
<path d="M-7 0.3 Q-9.8 6 -7 11.5 M7 0.3 Q9.8 6 7 11.5" fill="none" stroke="#111" stroke-width="1.3" />
</g>
</g>
<rect x="712" y="612" width="1045" height="90" fill="#fff"/>
<line x1="714" y1="617.5" x2="818" y2="617.5" stroke="#111" stroke-width="2.6"/>
<line x1="714" y1="626.5" x2="818" y2="626.5" stroke="#111" stroke-width="3.4"/>
<line x1="714" y1="636.5" x2="818" y2="636.5" stroke="#111" stroke-width="3.4"/>
<line x1="714" y1="645" x2="818" y2="645" stroke="#111" stroke-width="1.6"/>
<line x1="714" y1="649" x2="818" y2="649" stroke="#111" stroke-width="1.6"/>
<line x1="714" y1="653" x2="818" y2="653" stroke="#111" stroke-width="1.6"/>
<line x1="714" y1="658" x2="818" y2="658" stroke="#111" stroke-width="1.6"/>
<line x1="714" y1="662" x2="818" y2="662" stroke="#111" stroke-width="1.6"/>
<line x1="1193" y1="617.5" x2="1340" y2="617.5" stroke="#111" stroke-width="2.6"/>
<line x1="1193" y1="626.5" x2="1340" y2="626.5" stroke="#111" stroke-width="3.4"/>
<line x1="1193" y1="636.5" x2="1340" y2="636.5" stroke="#111" stroke-width="3.4"/>
<line x1="1193" y1="645" x2="1340" y2="645" stroke="#111" stroke-width="1.6"/>
<line x1="1193" y1="649" x2="1340" y2="649" stroke="#111" stroke-width="1.6"/>
<line x1="1193" y1="653" x2="1340" y2="653" stroke="#111" stroke-width="1.6"/>
<line x1="1193" y1="658" x2="1340" y2="658" stroke="#111" stroke-width="1.6"/>
<line x1="1193" y1="662" x2="1340" y2="662" stroke="#111" stroke-width="1.6"/>
<line x1="1612" y1="617.5" x2="1757" y2="617.5" stroke="#111" stroke-width="2.6"/>
<line x1="1612" y1="626.5" x2="1757" y2="626.5" stroke="#111" stroke-width="3.4"/>
<line x1="1612" y1="636.5" x2="1757" y2="636.5" stroke="#111" stroke-width="3.4"/>
<line x1="1612" y1="645" x2="1757" y2="645" stroke="#111" stroke-width="1.6"/>
<line x1="1612" y1="649" x2="1757" y2="649" stroke="#111" stroke-width="1.6"/>
<line x1="1612" y1="653" x2="1757" y2="653" stroke="#111" stroke-width="1.6"/>
<line x1="1612" y1="658" x2="1757" y2="658" stroke="#111" stroke-width="1.6"/>
<line x1="1612" y1="662" x2="1757" y2="662" stroke="#111" stroke-width="1.6"/>
<line x1="714" y1="671" x2="1757" y2="671" stroke="#111" stroke-width="1.8"/>
<line x1="714" y1="677" x2="1757" y2="677" stroke="#111" stroke-width="1.8"/>
<line x1="714" y1="695" x2="1757" y2="695" stroke="#111" stroke-width="1.8"/>
<line x1="714" y1="700" x2="1757" y2="700" stroke="#111" stroke-width="2.2"/>
<line x1="1757" y1="616.4" x2="1757" y2="701" stroke="#111" stroke-width="2"/>
<line x1="738.5" y1="617" x2="738.5" y2="662" stroke="#111" stroke-width="1.1" stroke-dasharray="5 2"/>
<line x1="790.5" y1="617" x2="790.5" y2="662" stroke="#111" stroke-width="1.1" stroke-dasharray="5 2"/>
<line x1="747.5" y1="662" x2="747.5" y2="700" stroke="#111" stroke-width="1.1" stroke-dasharray="5 2"/>
<line x1="780.5" y1="662" x2="780.5" y2="700" stroke="#111" stroke-width="1.1" stroke-dasharray="5 2"/>
<line x1="747.6" y1="662.5" x2="780.6" y2="662.5" stroke="#111" stroke-width="1.1" stroke-dasharray="5 2"/>
<line x1="764.5" y1="605" x2="764.5" y2="771" stroke="#111" stroke-width="1" stroke-dasharray="16 3 3 3"/>
<line x1="1667.5" y1="617" x2="1667.5" y2="662" stroke="#111" stroke-width="1.1" stroke-dasharray="5 2"/>
<line x1="1719.5" y1="617" x2="1719.5" y2="662" stroke="#111" stroke-width="1.1" stroke-dasharray="5 2"/>
<line x1="1676.5" y1="662" x2="1676.5" y2="700" stroke="#111" stroke-width="1.1" stroke-dasharray="5 2"/>
<line x1="1709.5" y1="662" x2="1709.5" y2="700" stroke="#111" stroke-width="1.1" stroke-dasharray="5 2"/>
<line x1="1676.8" y1="662.5" x2="1709.8" y2="662.5" stroke="#111" stroke-width="1.1" stroke-dasharray="5 2"/>
<line x1="1693.5" y1="605" x2="1693.5" y2="771" stroke="#111" stroke-width="1" stroke-dasharray="16 3 3 3"/>
<rect x="817.9" y="549" width="375.2" height="119.5" fill="#fff"/>
<rect x="818" y="554" width="12" height="114" fill="none" stroke="#111" stroke-width="2"/>
<rect x="1181" y="554" width="12" height="114" fill="none" stroke="#111" stroke-width="2"/>
<line x1="817.9" y1="660" x2="830.1" y2="660" stroke="#111" stroke-width="1.8"/>
<line x1="1181" y1="660" x2="1193.1" y2="660" stroke="#111" stroke-width="1.8"/>
<rect x="830" y="551" width="46" height="117" fill="none" stroke="#111" stroke-width="2"/>
<rect x="1135" y="551" width="46" height="117" fill="none" stroke="#111" stroke-width="2"/>
<line x1="830.1" y1="553.5" x2="876.2" y2="553.5" stroke="#111" stroke-width="1.4"/>
<line x1="1135" y1="553.5" x2="1181" y2="553.5" stroke="#111" stroke-width="1.4"/>
<line x1="830.1" y1="660" x2="876.2" y2="660" stroke="#111" stroke-width="1.8"/>
<line x1="1135" y1="660" x2="1181" y2="660" stroke="#111" stroke-width="1.8"/>
<rect x="876" y="550" width="259" height="118" fill="none" stroke="#111" stroke-width="2.2"/>
<line x1="876.2" y1="554" x2="1135" y2="554" stroke="#111" stroke-width="1.8"/>
<line x1="876.2" y1="594" x2="1135" y2="594" stroke="#111" stroke-width="1.8"/>
<line x1="876.2" y1="598" x2="1135" y2="598" stroke="#111" stroke-width="1.8"/>
<line x1="876.2" y1="663" x2="1135" y2="663" stroke="#111" stroke-width="1.8"/>
<circle cx="853.6" cy="582.2" r="16.3" fill="none" stroke="#111" stroke-width="1.7"/>
<circle cx="853.6" cy="582.2" r="13.8" fill="none" stroke="#111" stroke-width="1.4"/>
<circle cx="853.6" cy="582.2" r="4.1" fill="none" stroke="#111" stroke-width="1.3"/>
<circle cx="1157.5" cy="582.2" r="16.3" fill="none" stroke="#111" stroke-width="1.7"/>
<circle cx="1157.5" cy="582.2" r="13.8" fill="none" stroke="#111" stroke-width="1.4"/>
<circle cx="1157.5" cy="582.2" r="4.1" fill="none" stroke="#111" stroke-width="1.3"/>
<line x1="904.5" y1="555" x2="904.5" y2="597" stroke="#111" stroke-width="1" stroke-dasharray="4 1.5"/>
<line x1="905.5" y1="555" x2="905.5" y2="597" stroke="#111" stroke-width="1" stroke-dasharray="4 1.5"/>
<line x1="933.5" y1="555" x2="933.5" y2="597" stroke="#111" stroke-width="1" stroke-dasharray="4 1.5"/>
<line x1="934.5" y1="555" x2="934.5" y2="597" stroke="#111" stroke-width="1" stroke-dasharray="4 1.5"/>
<path d="M901.9 551 L904.2 554.3 M936.9 551 L934.6 554.3" fill="none" stroke="#111" stroke-width="1" />
<line x1="919.5" y1="540" x2="919.5" y2="609" stroke="#111" stroke-width="1" stroke-dasharray="14 2 2 2"/>
<line x1="1076.5" y1="555" x2="1076.5" y2="597" stroke="#111" stroke-width="1" stroke-dasharray="4 1.5"/>
<line x1="1077.5" y1="555" x2="1077.5" y2="597" stroke="#111" stroke-width="1" stroke-dasharray="4 1.5"/>
<line x1="1105.5" y1="555" x2="1105.5" y2="597" stroke="#111" stroke-width="1" stroke-dasharray="4 1.5"/>
<line x1="1106.5" y1="555" x2="1106.5" y2="597" stroke="#111" stroke-width="1" stroke-dasharray="4 1.5"/>
<path d="M1074 551 L1076.3 554.3 M1109 551 L1106.7 554.3" fill="none" stroke="#111" stroke-width="1" />
<line x1="1091.5" y1="540" x2="1091.5" y2="609" stroke="#111" stroke-width="1" stroke-dasharray="14 2 2 2"/>
<path d="M893.5 598.5 C894 630 896 650 898 658 Q901 667.5 908 667.5 L930.8 667.5 Q937.8 667.5 940.8 658 C942.8 650 944.8 630 945.3 598.5" fill="none" stroke="#111" stroke-width="1.4" />
<path d="M1065.6 598.5 C1066.1 630 1068.1 650 1070.1 658 Q1073.1 667.5 1080.1 667.5 L1103.1 667.5 Q1110.1 667.5 1113.1 658 C1115.1 650 1117.1 630 1117.6 598.5" fill="none" stroke="#111" stroke-width="1.4" />
<rect x="1339.6" y="549" width="272.7" height="119.5" fill="#fff"/>
<rect x="1340" y="554" width="12" height="114" fill="none" stroke="#111" stroke-width="2"/>
<rect x="1601" y="554" width="11" height="114" fill="none" stroke="#111" stroke-width="2"/>
<line x1="1339.6" y1="660" x2="1352" y2="660" stroke="#111" stroke-width="1.8"/>
<line x1="1600.7" y1="660" x2="1612.3" y2="660" stroke="#111" stroke-width="1.8"/>
<rect x="1352" y="551" width="46" height="117" fill="none" stroke="#111" stroke-width="2"/>
<rect x="1554" y="551" width="47" height="117" fill="none" stroke="#111" stroke-width="2"/>
<line x1="1352" y1="553.5" x2="1397.8" y2="553.5" stroke="#111" stroke-width="1.4"/>
<line x1="1554.1" y1="553.5" x2="1600.7" y2="553.5" stroke="#111" stroke-width="1.4"/>
<line x1="1352" y1="660" x2="1397.8" y2="660" stroke="#111" stroke-width="1.8"/>
<line x1="1554.1" y1="660" x2="1600.7" y2="660" stroke="#111" stroke-width="1.8"/>
<rect x="1398" y="550" width="156" height="118" fill="none" stroke="#111" stroke-width="2.2"/>
<line x1="1397.8" y1="554" x2="1554.1" y2="554" stroke="#111" stroke-width="1.8"/>
<line x1="1397.8" y1="594" x2="1554.1" y2="594" stroke="#111" stroke-width="1.8"/>
<line x1="1397.8" y1="598" x2="1554.1" y2="598" stroke="#111" stroke-width="1.8"/>
<line x1="1397.8" y1="663" x2="1554.1" y2="663" stroke="#111" stroke-width="1.8"/>
<circle cx="1375.5" cy="582.2" r="16.3" fill="none" stroke="#111" stroke-width="1.7"/>
<circle cx="1375.5" cy="582.2" r="13.8" fill="none" stroke="#111" stroke-width="1.4"/>
<circle cx="1375.5" cy="582.2" r="4.1" fill="none" stroke="#111" stroke-width="1.3"/>
<circle cx="1576.2" cy="582.2" r="16.3" fill="none" stroke="#111" stroke-width="1.7"/>
<circle cx="1576.2" cy="582.2" r="13.8" fill="none" stroke="#111" stroke-width="1.4"/>
<circle cx="1576.2" cy="582.2" r="4.1" fill="none" stroke="#111" stroke-width="1.3"/>
<line x1="1460.5" y1="555" x2="1460.5" y2="597" stroke="#111" stroke-width="1" stroke-dasharray="4 1.5"/>
<line x1="1461.5" y1="555" x2="1461.5" y2="597" stroke="#111" stroke-width="1" stroke-dasharray="4 1.5"/>
<line x1="1489.5" y1="555" x2="1489.5" y2="597" stroke="#111" stroke-width="1" stroke-dasharray="4 1.5"/>
<line x1="1490.5" y1="555" x2="1490.5" y2="597" stroke="#111" stroke-width="1" stroke-dasharray="4 1.5"/>
<path d="M1457.8 551 L1460.1 554.3 M1492.8 551 L1490.5 554.3" fill="none" stroke="#111" stroke-width="1" />
<line x1="1475.5" y1="540" x2="1475.5" y2="609" stroke="#111" stroke-width="1" stroke-dasharray="14 2 2 2"/>
<path d="M1449.4 598.5 C1449.9 630 1451.9 650 1453.9 658 Q1456.9 667.5 1463.9 667.5 L1487.5 667.5 Q1494.5 667.5 1497.5 658 C1499.5 650 1501.5 630 1502 598.5" fill="none" stroke="#111" stroke-width="1.4" />
<g transform="translate(817.5 582.2) scale(-1 1)">
<path d="M0.5 -18.3 L4 -18.3 L4 17.7 L0.5 17.7 Z" fill="#fff" stroke="#111" stroke-width="1.6" />
<path d="M3.6 -17 Q1.2 -9 3.6 -0.5 Q1.2 8 3.6 16.5" fill="none" stroke="#111" stroke-width="1" />
<path d="M4 -18.3 L21.9 -18.3 Q28 -18.3 31.8 -15" fill="none" stroke="#111" stroke-width="1.8" />
<path d="M4 17.7 L21.9 17.7 Q28 17.7 31.8 14.4" fill="none" stroke="#111" stroke-width="1.8" />
<path d="M36.5 -14.7 L18.5 -14.7 L11.1 0 L18.5 13.8 L36.5 13.8" fill="#fff" stroke="#111" stroke-width="2" />
<path d="M20.3 -13.4 L13.4 0 L20.3 12.6" fill="none" stroke="#111" stroke-width="1" />
<path d="M32.5 -12.8 C20 -10 17 -4 16.9 0 C17 4 20 10 32.5 12.6" fill="none" stroke="#111" stroke-width="1.8" />
<circle cx="36.9" cy="0" r="11.2" fill="#fff" stroke="#111" stroke-width="2"/>
<circle cx="39.2" cy="0" r="7.3" fill="none" stroke="#111" stroke-width="1.6"/>
<ellipse cx="39.2" cy="0" rx="2.6" ry="3.2" fill="none" stroke="#111" stroke-width="1.6"/>
</g>
<line x1="765.5" y1="582.5" x2="827.5" y2="582.5" stroke="#111" stroke-width="1" stroke-dasharray="10 3 2 3"/>
<g transform="translate(1612.5 582.2) scale(1 1)">
<path d="M0.5 -18.3 L4 -18.3 L4 17.7 L0.5 17.7 Z" fill="#fff" stroke="#111" stroke-width="1.6" />
<path d="M3.6 -17 Q1.2 -9 3.6 -0.5 Q1.2 8 3.6 16.5" fill="none" stroke="#111" stroke-width="1" />
<path d="M4 -18.3 L21.9 -18.3 Q28 -18.3 31.8 -15" fill="none" stroke="#111" stroke-width="1.8" />
<path d="M4 17.7 L21.9 17.7 Q28 17.7 31.8 14.4" fill="none" stroke="#111" stroke-width="1.8" />
<path d="M36.5 -14.7 L18.5 -14.7 L11.1 0 L18.5 13.8 L36.5 13.8" fill="#fff" stroke="#111" stroke-width="2" />
<path d="M20.3 -13.4 L13.4 0 L20.3 12.6" fill="none" stroke="#111" stroke-width="1" />
<path d="M32.5 -12.8 C20 -10 17 -4 16.9 0 C17 4 20 10 32.5 12.6" fill="none" stroke="#111" stroke-width="1.8" />
<circle cx="36.9" cy="0" r="11.2" fill="#fff" stroke="#111" stroke-width="2"/>
<circle cx="39.2" cy="0" r="7.3" fill="none" stroke="#111" stroke-width="1.6"/>
<ellipse cx="39.2" cy="0" rx="2.6" ry="3.2" fill="none" stroke="#111" stroke-width="1.6"/>
</g>
<line x1="1664.5" y1="582.5" x2="1602.5" y2="582.5" stroke="#111" stroke-width="1" stroke-dasharray="10 3 2 3"/>
<line x1="1282.7" y1="609.5" x2="1257.4" y2="709" stroke="#fff" stroke-width="5"/>
<line x1="1280.5" y1="609.5" x2="1255.2" y2="709" stroke="#111" stroke-width="1" stroke-dasharray="7 2.5"/>
<line x1="1284.9" y1="609.5" x2="1259.6" y2="709" stroke="#111" stroke-width="1" stroke-dasharray="7 2.5"/>
<line x1="770.5" y1="445" x2="770.5" y2="582" stroke="#111" stroke-width="1"/>
<line x1="817.5" y1="445" x2="817.5" y2="554" stroke="#111" stroke-width="1"/>
<line x1="1193.5" y1="445" x2="1193.5" y2="554" stroke="#111" stroke-width="1"/>
<line x1="770.5" y1="447.5" x2="817.4" y2="447.5" stroke="#111" stroke-width="1"/>
<path d="M770.5 447.4 L780.5 445.2 L780.5 449.6 Z" fill="#111"/>
<path d="M817.4 447.4 L807.4 449.6 L807.4 445.2 Z" fill="#111"/>
<line x1="817.4" y1="447.5" x2="1193" y2="447.5" stroke="#111" stroke-width="1"/>
<path d="M817.4 447.4 L827.4 445.2 L827.4 449.6 Z" fill="#111"/>
<path d="M1193 447.4 L1183 449.6 L1183 445.2 Z" fill="#111"/>
<line x1="876.5" y1="473" x2="876.5" y2="550" stroke="#111" stroke-width="1"/>
<line x1="1135.5" y1="473" x2="1135.5" y2="550" stroke="#111" stroke-width="1"/>
<line x1="853.5" y1="473" x2="853.5" y2="582" stroke="#111" stroke-width="1"/>
<line x1="876.2" y1="476.5" x2="1135" y2="476.5" stroke="#111" stroke-width="1"/>
<path d="M876.2 476 L886.2 473.8 L886.2 478.2 Z" fill="#111"/>
<path d="M1135 476 L1125 478.2 L1125 473.8 Z" fill="#111"/>
<line x1="826" y1="476.5" x2="876.2" y2="476.5" stroke="#111" stroke-width="1"/>
<path d="M853.6 476 L862.6 474 L862.6 478 Z" fill="#111"/>
<path d="M876.2 476 L867.2 478 L867.2 474 Z" fill="#111"/>
<line x1="919.5" y1="502" x2="919.5" y2="545" stroke="#111" stroke-width="1" stroke-dasharray="14 2 2 2"/>
<line x1="1091.5" y1="502" x2="1091.5" y2="545" stroke="#111" stroke-width="1" stroke-dasharray="14 2 2 2"/>
<line x1="919.4" y1="505.5" x2="1091.5" y2="505.5" stroke="#111" stroke-width="1"/>
<path d="M919.4 505.4 L929.4 503.2 L929.4 507.6 Z" fill="#111"/>
<path d="M1091.5 505.4 L1081.5 507.6 L1081.5 503.2 Z" fill="#111"/>
<line x1="971.5" y1="529.5" x2="989" y2="529.5" stroke="#111" stroke-width="1"/>
<line x1="971.5" y1="529" x2="921.8" y2="548.9" stroke="#111" stroke-width="1"/>
<path d="M921.8 548.9 L930.34 543.33 L931.83 547.04 Z" fill="#111"/>
<line x1="1339.5" y1="445" x2="1339.5" y2="554" stroke="#111" stroke-width="1"/>
<line x1="1612.5" y1="445" x2="1612.5" y2="554" stroke="#111" stroke-width="1"/>
<line x1="1660.5" y1="445" x2="1660.5" y2="582" stroke="#111" stroke-width="1"/>
<line x1="1339.6" y1="447.5" x2="1612.3" y2="447.5" stroke="#111" stroke-width="1"/>
<path d="M1339.6 447.3 L1349.6 445.1 L1349.6 449.5 Z" fill="#111"/>
<path d="M1612.3 447.3 L1602.3 449.5 L1602.3 445.1 Z" fill="#111"/>
<line x1="1612.3" y1="447.5" x2="1660.5" y2="447.5" stroke="#111" stroke-width="1"/>
<path d="M1612.3 447.3 L1622.3 445.1 L1622.3 449.5 Z" fill="#111"/>
<path d="M1660.5 447.3 L1650.5 449.5 L1650.5 445.1 Z" fill="#111"/>
<line x1="1397.5" y1="473" x2="1397.5" y2="550" stroke="#111" stroke-width="1"/>
<line x1="1554.5" y1="473" x2="1554.5" y2="550" stroke="#111" stroke-width="1"/>
<line x1="1375.5" y1="473" x2="1375.5" y2="582" stroke="#111" stroke-width="1"/>
<line x1="1397.8" y1="475.5" x2="1554.1" y2="475.5" stroke="#111" stroke-width="1"/>
<path d="M1397.8 475.9 L1407.8 473.7 L1407.8 478.1 Z" fill="#111"/>
<path d="M1554.1 475.9 L1544.1 478.1 L1544.1 473.7 Z" fill="#111"/>
<line x1="1348" y1="475.5" x2="1397.8" y2="475.5" stroke="#111" stroke-width="1"/>
<path d="M1375.5 475.9 L1384.5 473.9 L1384.5 477.9 Z" fill="#111"/>
<path d="M1397.8 475.9 L1388.8 477.9 L1388.8 473.9 Z" fill="#111"/>
<line x1="1430" y1="518.5" x2="1446" y2="518.5" stroke="#111" stroke-width="1"/>
<line x1="1430" y1="518.1" x2="1474.3" y2="546.4" stroke="#111" stroke-width="1"/>
<path d="M1474.3 546.4 L1464.8 542.7 L1466.95 539.33 Z" fill="#111"/>
<line x1="1182" y1="549.5" x2="1236" y2="549.5" stroke="#111" stroke-width="1"/>
<line x1="1182" y1="582.5" x2="1236" y2="582.5" stroke="#111" stroke-width="1"/>
<line x1="1232.5" y1="549.5" x2="1232.5" y2="582.5" stroke="#111" stroke-width="1"/>
<path d="M1232.8 549.5 L1234.8 558.5 L1230.8 558.5 Z" fill="#111"/>
<path d="M1232.8 582.5 L1230.8 573.5 L1234.8 573.5 Z" fill="#111"/>
<line x1="1756.5" y1="700" x2="1756.5" y2="771" stroke="#111" stroke-width="1"/>
<line x1="1693.8" y1="768.5" x2="1756.3" y2="768.5" stroke="#111" stroke-width="1"/>
<path d="M1693.8 768.2 L1703.8 766.2 L1703.8 770.2 Z" fill="#111"/>
<path d="M1756.3 768.2 L1746.3 770.2 L1746.3 766.2 Z" fill="#111"/>
<text transform="translate(787.38 442.7) scale(0.7988 1)" font-size="22.82" fill="#111">G</text>
<text transform="translate(998.63 442.9) scale(1.0188 1)" font-size="24.71" fill="#111">L</text>
<text transform="translate(998.73 471.7) scale(0.9964 1)" font-size="24.13" fill="#111">L</text>
<text transform="translate(1012.42 472.9) scale(0.7527 1)" font-size="15.41" fill="#111">1</text>
<text transform="translate(827.16 470.8) scale(0.9375 1)" font-size="23.98" fill="#111">K</text>
<text transform="translate(843.13 472.6) scale(0.8773 1)" font-size="15.26" fill="#111">2</text>
<text transform="translate(998.84 503.3) scale(0.8251 1)" font-size="22.97" fill="#111">C</text>
<text transform="translate(995.54 537.7) scale(0.9918 1)" font-size="24.56" fill="#111">4-M</text>
<text transform="translate(1468.97 443.1) scale(1.0064 1)" font-size="24.56" fill="#111">L</text>
<text transform="translate(1628.55 442.7) scale(0.8256 1)" font-size="22.82" fill="#111">G</text>
<text transform="translate(1469.03 472) scale(1.0147 1)" font-size="23.69" fill="#111">L</text>
<text transform="translate(1483.35 472.5) scale(0.7659 1)" font-size="14.54" fill="#111">1</text>
<text transform="translate(1348.53 471.1) scale(0.9521 1)" font-size="23.98" fill="#111">K</text>
<text transform="translate(1365.1 472.5) scale(0.9514 1)" font-size="14.54" fill="#111">2</text>
<text transform="translate(1457.39 525.9) scale(1.0195 1)" font-size="23.69" fill="#111">2-M</text>
<text transform="translate(1227.9 578.04) rotate(-90) scale(0.8310 1)" font-size="24.13" fill="#111">H</text>
<text transform="translate(1230 560.48) rotate(-90) scale(0.8137 1)" font-size="15.55" fill="#111">3</text>
<text transform="translate(1718.89 762.5) scale(0.8519 1)" font-size="21.66" fill="#111">E</text>
<text transform="translate(965.09 739.5) scale(0.9519 1)" font-size="19.33" fill="#111">EGW-CA</text>
<text transform="translate(1443.07 739.5) scale(0.9651 1)" font-size="19.33" fill="#111">EGW-SA</text>
<defs><pattern id="hatch" patternUnits="userSpaceOnUse" width="9.6" height="9.6" patternTransform="rotate(45)"><line x1="0" y1="0" x2="0" y2="9.6" stroke="#222" stroke-width="1.2"/></pattern><clipPath id="secclip"><path d="M560.6 617.4 L714.2 617.4 L711.6 631.3 L713.3 660 L719.3 685.6 L716.7 700 L560.6 700 Z"/></clipPath></defs>
<g clip-path="url(#secclip)"><rect x="555" y="610" width="170" height="95" fill="url(#hatch)"/></g>
<rect x="597.9" y="617.4" width="51.5" height="42.7" fill="#fff"/>
<rect x="606.9" y="660.1" width="33" height="39.9" fill="#fff"/>
<path d="M597.9 617.4 L597.9 660.1 L606.9 660.1 L606.9 700" fill="none" stroke="#111" stroke-width="2.2" stroke-linejoin="round"/>
<path d="M649.4 617.4 L649.4 660.1 L639.9 660.1 L639.9 700" fill="none" stroke="#111" stroke-width="2.2" stroke-linejoin="round"/>
<line x1="597.9" y1="618.5" x2="649.4" y2="618.5" stroke="#111" stroke-width="3.2"/>
<line x1="606.9" y1="699.5" x2="639.9" y2="699.5" stroke="#111" stroke-width="3"/>
<line x1="561" y1="617.4" x2="561" y2="700" stroke="#111" stroke-width="2.2"/>
<line x1="560.6" y1="617" x2="716" y2="617" stroke="#111" stroke-width="2.4"/>
<line x1="560.6" y1="700" x2="716" y2="700" stroke="#111" stroke-width="2.4"/>
<path d="M714.2 617.4 L711.6 631.3 L713.3 660 L719.3 685.6 L716.7 700" fill="none" stroke="#111" stroke-width="1.4" stroke-linejoin="round"/>
<line x1="623.5" y1="605.5" x2="623.5" y2="771" stroke="#111" stroke-width="1" stroke-dasharray="16 3 3 3"/>
<line x1="494.4" y1="617.5" x2="558.4" y2="617.5" stroke="#111" stroke-width="1"/>
<line x1="494.4" y1="700.5" x2="558.4" y2="700.5" stroke="#111" stroke-width="1"/>
<line x1="497.5" y1="617.4" x2="497.5" y2="700" stroke="#111" stroke-width="1"/>
<path d="M497.5 617.4 L499.5 627.4 L495.5 627.4 Z" fill="#111"/>
<path d="M497.5 700 L495.5 690 L499.5 690 Z" fill="#111"/>
<line x1="528.4" y1="660.5" x2="595.4" y2="660.5" stroke="#111" stroke-width="1"/>
<line x1="530.5" y1="617.4" x2="530.5" y2="660.1" stroke="#111" stroke-width="1"/>
<path d="M530.9 617.4 L532.9 626.4 L528.9 626.4 Z" fill="#111"/>
<path d="M530.9 660.1 L528.9 651.1 L532.9 651.1 Z" fill="#111"/>
<line x1="597.5" y1="593" x2="597.5" y2="617" stroke="#111" stroke-width="1"/>
<line x1="649.5" y1="593" x2="649.5" y2="617" stroke="#111" stroke-width="1"/>
<line x1="597.9" y1="596.5" x2="649.4" y2="596.5" stroke="#111" stroke-width="1"/>
<path d="M597.9 596.1 L607.9 594.1 L607.9 598.1 Z" fill="#111"/>
<path d="M649.4 596.1 L639.4 598.1 L639.4 594.1 Z" fill="#111"/>
<line x1="606.5" y1="700" x2="606.5" y2="735.6" stroke="#111" stroke-width="1"/>
<line x1="639.5" y1="700" x2="639.5" y2="735.6" stroke="#111" stroke-width="1"/>
<line x1="606.9" y1="732.5" x2="677.7" y2="732.5" stroke="#111" stroke-width="1"/>
<path d="M606.9 732.6 L616.9 730.6 L616.9 734.6 Z" fill="#111"/>
<path d="M639.9 732.6 L629.9 734.6 L629.9 730.6 Z" fill="#111"/>
<line x1="560.5" y1="700" x2="560.5" y2="771" stroke="#111" stroke-width="1"/>
<line x1="764.5" y1="700" x2="764.5" y2="771" stroke="#111" stroke-width="1"/>
<line x1="560.6" y1="768.5" x2="623.4" y2="768.5" stroke="#111" stroke-width="1"/>
<path d="M560.6 768.4 L570.6 766.4 L570.6 770.4 Z" fill="#111"/>
<path d="M623.4 768.4 L613.4 770.4 L613.4 766.4 Z" fill="#111"/>
<line x1="623.4" y1="768.5" x2="764.6" y2="768.5" stroke="#111" stroke-width="1"/>
<path d="M623.4 768.4 L633.4 766.4 L633.4 770.4 Z" fill="#111"/>
<path d="M764.6 768.4 L754.6 770.4 L754.6 766.4 Z" fill="#111"/>
<text transform="translate(607.36 590.5) scale(1.0145 1)" font-size="20.93" fill="#111">ØD</text>
<text transform="translate(647.29 727.1) scale(0.9310 1)" font-size="22.09" fill="#111">Ød</text>
<text transform="translate(583.54 760.2) scale(0.9186 1)" font-size="22.09" fill="#111">E</text>
<text transform="translate(688.7 762.8) scale(0.9294 1)" font-size="22.24" fill="#111">P</text>
<text transform="translate(527 647.2) rotate(-90) scale(0.9473 1)" font-size="22.77" fill="#111">h</text>
<text transform="translate(491.3 670.65) rotate(-90) scale(0.9103 1)" font-size="23.4" fill="#111">H</text>
<text transform="translate(495 653.41) rotate(-90) scale(0.7905 1)" font-size="15.55" fill="#111">R</text>
<line x1="125.5" y1="478" x2="125.5" y2="757" stroke="#111" stroke-width="1"/>
<line x1="443.5" y1="478" x2="443.5" y2="552" stroke="#111" stroke-width="1"/>
<line x1="125.4" y1="481.5" x2="443.9" y2="481.5" stroke="#111" stroke-width="1"/>
<path d="M125.4 481.3 L136.4 479.1 L136.4 483.5 Z" fill="#111"/>
<path d="M443.9 481.3 L432.9 483.5 L432.9 479.1 Z" fill="#111"/>
<line x1="153.5" y1="517" x2="153.5" y2="548" stroke="#111" stroke-width="1"/>
<line x1="416.5" y1="517" x2="416.5" y2="548" stroke="#111" stroke-width="1"/>
<line x1="153.4" y1="520.5" x2="416.2" y2="520.5" stroke="#111" stroke-width="1"/>
<path d="M153.4 520.4 L164.4 518.2 L164.4 522.6 Z" fill="#111"/>
<path d="M416.2 520.4 L405.2 522.6 L405.2 518.2 Z" fill="#111"/>
<line x1="125.4" y1="520.5" x2="153.4" y2="520.5" stroke="#111" stroke-width="1"/>
<path d="M125.4 520.4 L133.4 518.4 L133.4 522.4 Z" fill="#111"/>
<path d="M153.4 520.4 L145.4 522.4 L145.4 518.4 Z" fill="#111"/>
<line x1="153.5" y1="540" x2="153.5" y2="636" stroke="#111" stroke-width="1" stroke-dasharray="12 2 2 2"/>
<line x1="416.5" y1="540" x2="416.5" y2="636" stroke="#111" stroke-width="1" stroke-dasharray="12 2 2 2"/>
<path d="M237.5 667.8 L176 667.8 Q170 666 166.8 659.7 L151.8 604.5 Q150.5 598.5 146 597.9 L133.4 597.9 Q128 596 125.9 590 L125.9 555 L130.5 549.8 L202.5 549.8 L206 551.5 L252 551.5 L256.6 549.8 L315.5 549.8 L318.4 551.5 L364.4 551.5 L367.3 549.8 L439.2 549.8 L444.4 555 L444.4 591.8 L438.7 597.9 L423.1 597.9 Q418.5 599 417.4 604.5 L403.6 659.7 Q400 666 393.8 667.8 L332.2 667.8" fill="none" stroke="#111" stroke-width="2" />
<path d="M173.7 667 L173.7 565.5 Q173.7 555 184 555 L386 555 Q396.1 555 396.1 565.5 L396.1 667" fill="none" stroke="#111" stroke-width="1.9" />
<line x1="136.5" y1="556" x2="136.5" y2="598" stroke="#111" stroke-width="1" stroke-dasharray="4 1.6"/>
<line x1="139.5" y1="556" x2="139.5" y2="598" stroke="#111" stroke-width="1" stroke-dasharray="4 1.6"/>
<line x1="165.5" y1="556" x2="165.5" y2="598" stroke="#111" stroke-width="1" stroke-dasharray="4 1.6"/>
<line x1="168.5" y1="556" x2="168.5" y2="598" stroke="#111" stroke-width="1" stroke-dasharray="4 1.6"/>
<line x1="139.2" y1="555.5" x2="165.6" y2="555.5" stroke="#111" stroke-width="1" stroke-dasharray="4 1.6"/>
<line x1="139.2" y1="597.5" x2="165.6" y2="597.5" stroke="#111" stroke-width="1" stroke-dasharray="4 1.6"/>
<line x1="400.5" y1="556" x2="400.5" y2="598" stroke="#111" stroke-width="1" stroke-dasharray="4 1.6"/>
<line x1="403.5" y1="556" x2="403.5" y2="598" stroke="#111" stroke-width="1" stroke-dasharray="4 1.6"/>
<line x1="430.5" y1="556" x2="430.5" y2="598" stroke="#111" stroke-width="1" stroke-dasharray="4 1.6"/>
<line x1="433.5" y1="556" x2="433.5" y2="598" stroke="#111" stroke-width="1" stroke-dasharray="4 1.6"/>
<line x1="403.6" y1="555.5" x2="430.6" y2="555.5" stroke="#111" stroke-width="1" stroke-dasharray="4 1.6"/>
<line x1="403.6" y1="597.5" x2="430.6" y2="597.5" stroke="#111" stroke-width="1" stroke-dasharray="4 1.6"/>
<line x1="168.5" y1="598.5" x2="178.1" y2="598.5" stroke="#111" stroke-width="1" stroke-dasharray="4 1.6"/>
<line x1="391.5" y1="598.5" x2="400.7" y2="598.5" stroke="#111" stroke-width="1" stroke-dasharray="4 1.6"/>
<line x1="178.5" y1="598" x2="178.5" y2="667" stroke="#111" stroke-width="1" stroke-dasharray="4 1.6"/>
<line x1="391.5" y1="598" x2="391.5" y2="667" stroke="#111" stroke-width="1" stroke-dasharray="4 1.6"/>
<path d="M257.5 555 L257.5 582.6 A27.3 27.3 0 0 0 312.2 582.6 L312.2 555" fill="none" stroke="#111" stroke-width="1.6" />
<circle cx="284.6" cy="582" r="14.1" fill="none" stroke="#111" stroke-width="1.8"/>
<path d="M288 570 L296 569.4 L299.5 574 L299.5 590 L296 594 L288 594 L286 582 Z" fill="#fff" stroke="#111" stroke-width="1.4" />
<path d="M296 569.4 Q302 576 302 582 Q302 588 296 594" fill="none" stroke="#111" stroke-width="1.2" />
<path d="M299.5 574 L313 576 L313 588 L299.5 590" fill="#fff" stroke="#111" stroke-width="1.3" />
<path d="M313 574.5 Q324.3 575 324.3 582 Q324.3 589 313 589.5 Q309 582 313 574.5 Z" fill="#fff" stroke="#111" stroke-width="1.4" />
<circle cx="320.9" cy="582" r="2" fill="none" stroke="#111" stroke-width="1.2"/>
<line x1="330" y1="582.5" x2="480" y2="582.5" stroke="#111" stroke-width="1"/>
<line x1="284.5" y1="538" x2="284.5" y2="706" stroke="#111" stroke-width="1" stroke-dasharray="14 2 2 2"/>
<path d="M200 667.2 L221.3 667.2 L233.4 655.1 L218.4 640.1 L218.4 622.3 L234.5 605.6 L334.7 605.6 L350.8 622.3 L350.8 640.1 L335.8 655.1 L347.3 667.2 L380 667.2" fill="none" stroke="#111" stroke-width="1.8" stroke-linejoin="round"/>
<rect x="211" y="622" width="6" height="18" fill="none" stroke="#111" stroke-width="1.8"/>
<rect x="352" y="622" width="7" height="18" fill="none" stroke="#111" stroke-width="1.8"/>
<path d="M228.3 667.3 L240.2 654.6 L224.9 640 L224.9 623 L237 610.9 L332.7 610.9 L344.8 623 L344.8 640 L329.5 654.6 L341.4 667.3" fill="none" stroke="#111" stroke-width="3" stroke-linejoin="round"/>
<path d="M231.5 667.3 L243 654.4 L227.9 639.5 L227.9 624.2 L238.6 613.7 L331.1 613.7 L341.8 624.2 L341.8 639.5 L326.7 654.4 L338.2 667.3" fill="none" stroke="#111" stroke-width="1.1" stroke-linejoin="round"/>
<path d="M237 667.6 L245.1 654.6 L244 649.2 L237.5 641.6 L231.5 637.5 L230.7 636.2 L230.7 627 L232 625.9 L237.5 622.5 L239.5 617.2 L330.2 617.2 L332.2 622.5 L337.7 625.9 L339 627 L339 636.2 L338.2 637.5 L332.2 641.6 L325.7 649.2 L324.6 654.6 L332.7 667.6 L338.7 673 L338.7 696.5 L335.2 700 L303.6 700 L301.3 696.5 L268.4 696.5 L266.1 700 L234.5 700 L231 696.5 L231 673 Z" fill="#fff" stroke="#111" stroke-width="2.1" stroke-linejoin="round"/>
<line x1="239.5" y1="617.5" x2="330.2" y2="617.5" stroke="#111" stroke-width="2.6"/>
<line x1="259.5" y1="619.4" x2="259.5" y2="662.6" stroke="#111" stroke-width="1" stroke-dasharray="4 1.5"/>
<line x1="311.5" y1="619.4" x2="311.5" y2="662.6" stroke="#111" stroke-width="1" stroke-dasharray="4 1.5"/>
<line x1="259.3" y1="662.5" x2="311.1" y2="662.5" stroke="#111" stroke-width="1" stroke-dasharray="4 1.5"/>
<line x1="267.5" y1="662.6" x2="267.5" y2="697" stroke="#111" stroke-width="1" stroke-dasharray="4 1.5"/>
<line x1="301.5" y1="662.6" x2="301.5" y2="697" stroke="#111" stroke-width="1" stroke-dasharray="4 1.5"/>
<circle cx="185.2" cy="631.5" r="10.1" fill="#fff" stroke="#111" stroke-width="2.4"/>
<circle cx="185.2" cy="631.5" r="6.4" fill="none" stroke="#111" stroke-width="1.2"/>
<line x1="177.7" y1="632" x2="192.7" y2="632" stroke="#fff" stroke-width="2.2"/>
<line x1="185" y1="624" x2="185" y2="639" stroke="#fff" stroke-width="2.2"/>
<line x1="178.2" y1="631.5" x2="192.2" y2="631.5" stroke="#111" stroke-width="1.1"/>
<line x1="185.5" y1="624.5" x2="185.5" y2="638.5" stroke="#111" stroke-width="1.1"/>
<circle cx="384.6" cy="631.5" r="10.1" fill="#fff" stroke="#111" stroke-width="2.4"/>
<circle cx="384.6" cy="631.5" r="6.4" fill="none" stroke="#111" stroke-width="1.2"/>
<line x1="377.1" y1="632" x2="392.1" y2="632" stroke="#fff" stroke-width="2.2"/>
<line x1="385" y1="624" x2="385" y2="639" stroke="#fff" stroke-width="2.2"/>
<line x1="377.6" y1="631.5" x2="391.6" y2="631.5" stroke="#111" stroke-width="1.1"/>
<line x1="384.5" y1="624.5" x2="384.5" y2="638.5" stroke="#111" stroke-width="1.1"/>
<line x1="117" y1="550.5" x2="200" y2="550.5" stroke="#111" stroke-width="1"/>
<line x1="117" y1="700.5" x2="232" y2="700.5" stroke="#111" stroke-width="1"/>
<line x1="33.5" y1="550" x2="33.5" y2="700.5" stroke="#111" stroke-width="1"/>
<path d="M33.5 550 L35.7 561 L31.3 561 Z" fill="#111"/>
<path d="M33.5 700.5 L31.3 689.5 L35.7 689.5 Z" fill="#111"/>
<line x1="31.4" y1="549.5" x2="127" y2="549.5" stroke="#111" stroke-width="1"/>
<line x1="31.4" y1="700.5" x2="127" y2="700.5" stroke="#111" stroke-width="1"/>
<line x1="96" y1="668.5" x2="176" y2="668.5" stroke="#111" stroke-width="1"/>
<line x1="99.5" y1="668" x2="99.5" y2="700.5" stroke="#111" stroke-width="1"/>
<path d="M99.5 668 L101.5 676 L97.5 676 Z" fill="#111"/>
<path d="M99.5 700.5 L97.5 692.5 L101.5 692.5 Z" fill="#111"/>
<line x1="66" y1="598.5" x2="130" y2="598.5" stroke="#111" stroke-width="1"/>
<line x1="69.5" y1="550" x2="69.5" y2="598.5" stroke="#111" stroke-width="1"/>
<path d="M69.5 550 L71.5 559 L67.5 559 Z" fill="#111"/>
<path d="M69.5 598.5 L67.5 589.5 L71.5 589.5 Z" fill="#111"/>
<line x1="100" y1="587.5" x2="124" y2="587.5" stroke="#111" stroke-width="1"/>
<line x1="103.5" y1="550" x2="103.5" y2="587.5" stroke="#111" stroke-width="1"/>
<path d="M103.5 550 L105.5 559 L101.5 559 Z" fill="#111"/>
<path d="M103.5 587.5 L101.5 578.5 L105.5 578.5 Z" fill="#111"/>
<line x1="443.9" y1="550.5" x2="480" y2="550.5" stroke="#111" stroke-width="1"/>
<line x1="477.5" y1="550" x2="477.5" y2="582" stroke="#111" stroke-width="1"/>
<path d="M477.5 550 L479.5 559 L475.5 559 Z" fill="#111"/>
<path d="M477.5 582 L475.5 573 L479.5 573 Z" fill="#111"/>
<line x1="230.5" y1="700" x2="230.5" y2="757" stroke="#111" stroke-width="1"/>
<line x1="339.5" y1="700" x2="339.5" y2="757" stroke="#111" stroke-width="1"/>
<line x1="125.4" y1="754.5" x2="230.8" y2="754.5" stroke="#111" stroke-width="1"/>
<path d="M125.4 754.5 L135.4 752.3 L135.4 756.7 Z" fill="#111"/>
<path d="M230.8 754.5 L220.8 756.7 L220.8 752.3 Z" fill="#111"/>
<line x1="230.8" y1="754.5" x2="339.4" y2="754.5" stroke="#111" stroke-width="1"/>
<path d="M230.8 754.5 L240.8 752.3 L240.8 756.7 Z" fill="#111"/>
<path d="M339.4 754.5 L329.4 756.7 L329.4 752.3 Z" fill="#111"/>
<text transform="translate(275.21 476.6) scale(0.8775 1)" font-size="23.98" fill="#111">W</text>
<text transform="translate(277.02 515.6) scale(0.9675 1)" font-size="23.69" fill="#111">B</text>
<text transform="translate(128.82 515.6) scale(0.9675 1)" font-size="23.69" fill="#111">B</text>
<text transform="translate(144.52 517.1) scale(0.7238 1)" font-size="14.1" fill="#111">1</text>
<text transform="translate(172.58 749.6) scale(0.9779 1)" font-size="23.98" fill="#111">N</text>
<text transform="translate(275.31 749) scale(0.8488 1)" font-size="24.42" fill="#111">W</text>
<text transform="translate(294.24 750.8) scale(0.8922 1)" font-size="14.54" fill="#111">R</text>
<text transform="translate(29.5 626.27) rotate(-90) scale(0.8510 1)" font-size="23.98" fill="#111">H</text>
<text transform="translate(63.9 582.81) rotate(-90) scale(0.7736 1)" font-size="23.55" fill="#111">T</text>
<text transform="translate(66.1 571.68) rotate(-90) scale(0.7746 1)" font-size="14.97" fill="#111">1</text>
<text transform="translate(98.8 574.44) rotate(-90) scale(0.8494 1)" font-size="23.11" fill="#111">T</text>
<text transform="translate(93.1 694.55) rotate(-90) scale(0.9047 1)" font-size="23.55" fill="#111">H</text>
<text transform="translate(95.9 678.88) rotate(-90) scale(0.7746 1)" font-size="14.97" fill="#111">1</text>
<text transform="translate(469.5 574.14) rotate(-90) scale(0.8463 1)" font-size="23.69" fill="#111">H</text>
<text transform="translate(473.5 558.57) rotate(-90) scale(0.9121 1)" font-size="14.68" fill="#111">2</text>
<path d="M846.6 939.2 L854.4 910.7 L862.7 918.4 Q930.45 872.4 998.2 918.4 L1006.5 910.7 L1014.3 939.2 L985.2 930.9 L992.1 923.1 Q930.45 883.3 868.8 923.1 L875.7 930.9 Z" fill="#fff" stroke="#333" stroke-width="1.2" />
<text transform="translate(916.05 881.6) scale(1.0668 1)" font-size="23.4" fill="#111">M</text>
<text transform="translate(939.07 884.9) scale(1.0012 1)" font-size="14.97" fill="#111">R</text>
<path d="M885.5 999 Q882.5 998.5 882.1 996.8 L875.4 973.1 Q874.5 970.1 871 970.1 L868.6 969.7 Q864.8 968.5 864.8 965.4 L863.9 953 Q863.9 949.8 867 949.8 L896.6 949.8 L898 951.5 L916 951.5 L917.3 949.8 L943.6 949.8 L945 951.5 L963 951.5 L964.4 949.8 L994 949.8 Q997.1 949.8 997.1 953 L996.2 965.4 Q996.2 968.5 992.4 969.7 L990 970.1 Q986.5 970.1 985.6 973.1 L978.9 996.8 Q978.5 998.5 975.5 999" fill="none" stroke="#111" stroke-width="2" />
<path d="M884.3 998.5 L884.3 955.5 Q884.3 952.3 887.5 952.3 L973.9 952.3 Q977.1 952.3 977.1 955.5 L977.1 998.5" fill="none" stroke="#111" stroke-width="2" />
<line x1="884.3" y1="999" x2="909.3" y2="999" stroke="#111" stroke-width="2"/>
<line x1="952.5" y1="999" x2="977.1" y2="999" stroke="#111" stroke-width="2"/>
<path d="M910.6 977.3 L907.2 980.7 L907.2 985.8 L913.5 992.6 L913.5 995.1 L909.3 999.4 L908 1002.8 L908 1010.4 L910.6 1012.9 L923.7 1012.9 L924.5 1010.4 L936.4 1010.4 L937.7 1012.9 L950.8 1012.9 L953.4 1010.4 L953.4 1002.8 L951.7 999.4 L947.5 995.1 L947.5 992.6 L954.2 985.8 L954.2 980.7 L950.8 977.3 Z" fill="#fff" stroke="#111" stroke-width="2.6" stroke-linejoin="round"/>
<circle cx="930.5" cy="963.3" r="5.7" fill="none" stroke="#111" stroke-width="1.6"/>
<line x1="920.3" y1="963.5" x2="940.7" y2="963.5" stroke="#111" stroke-width="1"/>
<line x1="930.5" y1="947.2" x2="930.5" y2="1016.8" stroke="#111" stroke-width="1" stroke-dasharray="7 2 2 2"/>
<circle cx="889.4" cy="983.7" r="4.2" fill="#bbb" stroke="#111" stroke-width="1.4"/>
<line x1="885.9" y1="983.5" x2="892.9" y2="983.5" stroke="#eee" stroke-width="0.9"/>
<line x1="889.5" y1="980.2" x2="889.5" y2="987.2" stroke="#eee" stroke-width="0.9"/>
<circle cx="972" cy="983.7" r="4.2" fill="#bbb" stroke="#111" stroke-width="1.4"/>
<line x1="968.5" y1="983.5" x2="975.5" y2="983.5" stroke="#eee" stroke-width="0.9"/>
<line x1="972.5" y1="980.2" x2="972.5" y2="987.2" stroke="#eee" stroke-width="0.9"/>
<path d="M1109.4 928.7 L1116.2 899.5 L1125.5 907.5 Q1193.1 860.1 1260.7 907.5 L1270 899.5 L1276.8 928.7 L1247.8 920.5 L1254.7 912.5 Q1193.1 870.1 1131.5 912.5 L1138.4 920.5 Z" fill="#fff" stroke="#333" stroke-width="1.2" />
<text transform="translate(1178.56 870.5) scale(1.1159 1)" font-size="22.24" fill="#111">M</text>
<text transform="translate(1201.52 872.7) scale(1.0218 1)" font-size="15.26" fill="#111">P</text>
<rect x="1071.7" y="975.8" width="237.8" height="35.2" fill="#fff"/>
<line x1="1072" y1="975" x2="1072" y2="1012" stroke="#111" stroke-width="2.2"/>
<line x1="1309" y1="975" x2="1309" y2="1012" stroke="#111" stroke-width="2.2"/>
<line x1="1071.7" y1="976.5" x2="1115.5" y2="976.5" stroke="#111" stroke-width="2.7"/>
<line x1="1272.1" y1="976.5" x2="1309.5" y2="976.5" stroke="#111" stroke-width="2.7"/>
<line x1="1071.7" y1="980" x2="1115.5" y2="980" stroke="#111" stroke-width="1.6"/>
<line x1="1272.1" y1="980" x2="1309.5" y2="980" stroke="#111" stroke-width="1.6"/>
<line x1="1071.7" y1="984" x2="1115.5" y2="984" stroke="#111" stroke-width="2.2"/>
<line x1="1272.1" y1="984" x2="1309.5" y2="984" stroke="#111" stroke-width="2.2"/>
<line x1="1071.7" y1="991" x2="1115.5" y2="991" stroke="#111" stroke-width="8"/>
<line x1="1272.1" y1="991" x2="1309.5" y2="991" stroke="#111" stroke-width="8"/>
<line x1="1071.7" y1="1000.5" x2="1309.5" y2="1000.5" stroke="#111" stroke-width="3.3"/>
<line x1="1071.7" y1="1010" x2="1309.5" y2="1010" stroke="#111" stroke-width="3.5"/>
<rect x="1115.5" y="948.9" width="156.6" height="48.5" fill="#fff"/>
<rect x="1115" y="950" width="158" height="47" fill="none" stroke="#111" stroke-width="2"/>
<rect x="1120" y="949" width="148" height="48" fill="none" stroke="#111" stroke-width="1.8"/>
<rect x="1139" y="948" width="109" height="49" fill="none" stroke="#111" stroke-width="2"/>
<line x1="1138.9" y1="966.5" x2="1248.2" y2="966.5" stroke="#111" stroke-width="3"/>
<line x1="1114.8" y1="993" x2="1272.6" y2="993" stroke="#111" stroke-width="1.8"/>
<path d="M1146.5 968.5 C1146.8 978 1147.7 988 1149 992 Q1151.5 996.7 1157.35 996.7 Q1163.2 996.7 1165.7 992 C1167 988 1167.9 978 1168.2 968.5" fill="#fff" stroke="#111" stroke-width="1.3" />
<path d="M1218.2 968.5 C1218.5 978 1219.4 988 1220.7 992 Q1223.2 996.7 1229.5 996.7 Q1235.8 996.7 1238.3 992 C1239.6 988 1240.5 978 1240.8 968.5" fill="#fff" stroke="#111" stroke-width="1.3" />
<circle cx="1130" cy="961.4" r="5.7" fill="none" stroke="#111" stroke-width="2.4"/>
<circle cx="1130" cy="961.4" r="1.3" fill="#111" stroke="#111" stroke-width="1.6"/>
<circle cx="1257.4" cy="961.4" r="5.7" fill="none" stroke="#111" stroke-width="2.4"/>
<circle cx="1257.4" cy="961.4" r="1.3" fill="#111" stroke="#111" stroke-width="1.6"/>
<path d="M1412.8 889.4 L1420.6 861 L1428.6 869.4 Q1496.7 821.4 1564.8 869.4 L1572.8 861 L1580.6 889.4 L1550.8 882.4 L1558.9 874.5 Q1496.7 832.1 1434.5 874.5 L1442.6 882.4 Z" fill="#fff" stroke="#333" stroke-width="1.2" />
<text transform="translate(1481.69 832.2) scale(1.0486 1)" font-size="22.24" fill="#111">M</text>
<text transform="translate(1504.49 838) scale(0.6023 1)" font-size="15.99" fill="#111">Y</text>
<rect x="1374" y="952" width="44" height="44" fill="none" stroke="#111" stroke-width="1.8"/>
<rect x="1575" y="952" width="38" height="44" fill="none" stroke="#111" stroke-width="1.8"/>
<line x1="1374.4" y1="954.5" x2="1418.4" y2="954.5" stroke="#111" stroke-width="1.2"/>
<line x1="1374.4" y1="993.5" x2="1418.4" y2="993.5" stroke="#111" stroke-width="1.2"/>
<line x1="1575.3" y1="954.5" x2="1612.8" y2="954.5" stroke="#111" stroke-width="1.2"/>
<line x1="1575.3" y1="993.5" x2="1612.8" y2="993.5" stroke="#111" stroke-width="1.2"/>
<rect x="1418" y="928" width="25" height="92" fill="none" stroke="#111" stroke-width="1.8"/>
<rect x="1551" y="928" width="24" height="92" fill="none" stroke="#111" stroke-width="1.8"/>
<line x1="1424.5" y1="927.8" x2="1424.5" y2="1020" stroke="#111" stroke-width="1.4"/>
<line x1="1569.5" y1="927.8" x2="1569.5" y2="1020" stroke="#111" stroke-width="1.4"/>
<line x1="1424.3" y1="962.5" x2="1443" y2="962.5" stroke="#111" stroke-width="3"/>
<line x1="1424.3" y1="985.5" x2="1443" y2="985.5" stroke="#111" stroke-width="3"/>
<line x1="1424.5" y1="962.5" x2="1424.5" y2="985" stroke="#111" stroke-width="1.4"/>
<line x1="1443.5" y1="962.5" x2="1443.5" y2="985" stroke="#111" stroke-width="1.4"/>
<line x1="1551.3" y1="962.5" x2="1569.9" y2="962.5" stroke="#111" stroke-width="3"/>
<line x1="1551.3" y1="985.5" x2="1569.9" y2="985.5" stroke="#111" stroke-width="3"/>
<line x1="1551.5" y1="962.5" x2="1551.5" y2="985" stroke="#111" stroke-width="1.4"/>
<line x1="1569.5" y1="962.5" x2="1569.5" y2="985" stroke="#111" stroke-width="1.4"/>
<rect x="1443" y="908.3" width="108.3" height="131.2" fill="#fff"/>
<rect x="1443" y="908" width="108" height="132" fill="none" stroke="#111" stroke-width="1.8"/>
<line x1="1443" y1="909.5" x2="1551.3" y2="909.5" stroke="#111" stroke-width="2.8"/>
<line x1="1443" y1="939.5" x2="1551.3" y2="939.5" stroke="#111" stroke-width="2.8"/>
<line x1="1443" y1="960.5" x2="1551.3" y2="960.5" stroke="#111" stroke-width="2.8"/>
<line x1="1443" y1="987.5" x2="1551.3" y2="987.5" stroke="#111" stroke-width="2.8"/>
<line x1="1443" y1="1008.5" x2="1551.3" y2="1008.5" stroke="#111" stroke-width="2.8"/>
<line x1="1443" y1="1038.5" x2="1551.3" y2="1038.5" stroke="#111" stroke-width="2.8"/>
<circle cx="1460.7" cy="919" r="5.8" fill="none" stroke="#111" stroke-width="2.6"/>
<line x1="1450.7" y1="919.5" x2="1470.7" y2="919.5" stroke="#111" stroke-width="1"/>
<line x1="1460.5" y1="909" x2="1460.5" y2="929" stroke="#111" stroke-width="1"/>
<circle cx="1532.7" cy="919" r="5.8" fill="none" stroke="#111" stroke-width="2.6"/>
<line x1="1522.7" y1="919.5" x2="1542.7" y2="919.5" stroke="#111" stroke-width="1"/>
<line x1="1532.5" y1="909" x2="1532.5" y2="929" stroke="#111" stroke-width="1"/>
<circle cx="1460.7" cy="1028.2" r="5.8" fill="none" stroke="#111" stroke-width="2.6"/>
<line x1="1450.7" y1="1028.5" x2="1470.7" y2="1028.5" stroke="#111" stroke-width="1"/>
<line x1="1460.5" y1="1018.2" x2="1460.5" y2="1038.2" stroke="#111" stroke-width="1"/>
<circle cx="1532.7" cy="1028.2" r="5.8" fill="none" stroke="#111" stroke-width="2.6"/>
<line x1="1522.7" y1="1028.5" x2="1542.7" y2="1028.5" stroke="#111" stroke-width="1"/>
<line x1="1532.5" y1="1018.2" x2="1532.5" y2="1038.2" stroke="#111" stroke-width="1"/>
<circle cx="1391.3" cy="973.5" r="7" fill="#fff" stroke="#111" stroke-width="3"/>
<circle cx="1594.5" cy="973.5" r="7" fill="#fff" stroke="#111" stroke-width="3"/>
<circle cx="1433.1" cy="973.5" r="7.6" fill="#fff" stroke="#111" stroke-width="1.5"/>
<circle cx="1560.3" cy="973.5" r="7.6" fill="#fff" stroke="#111" stroke-width="1.5"/>
<line x1="1391.5" y1="963" x2="1391.5" y2="984" stroke="#111" stroke-width="1"/>
<line x1="1594.5" y1="963" x2="1594.5" y2="984" stroke="#111" stroke-width="1"/>
<line x1="1382" y1="973.5" x2="1605" y2="973.5" stroke="#111" stroke-width="1" stroke-dasharray="12 3 3 3"/>
</g>
</svg></body></html>
